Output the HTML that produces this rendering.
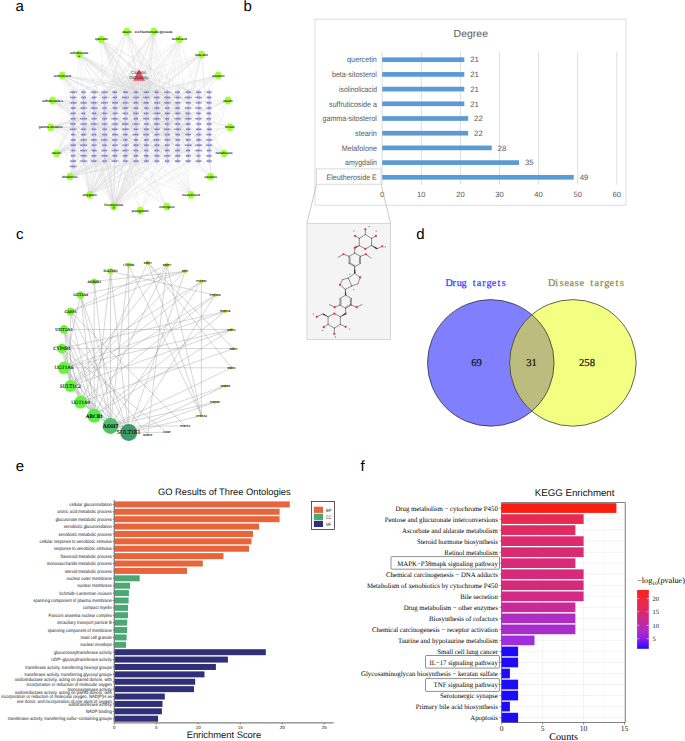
<!DOCTYPE html>
<html><head><meta charset="utf-8"><title>Figure</title>
<style>html,body{margin:0;padding:0;background:#fff;} svg{display:block;}</style></head>
<body><svg width="685" height="741" viewBox="0 0 685 741" text-rendering="geometricPrecision">
<rect width="685" height="741" fill="#fff"/>
<text x="15.60" y="10.80" font-size="15" fill="#000" text-anchor="start" font-family='"Liberation Sans", sans-serif' >a</text>
<text x="243.40" y="10.80" font-size="15" fill="#000" text-anchor="start" font-family='"Liberation Sans", sans-serif' >b</text>
<text x="16.00" y="238.70" font-size="15" fill="#000" text-anchor="start" font-family='"Liberation Sans", sans-serif' >c</text>
<text x="416.20" y="238.60" font-size="15" fill="#000" text-anchor="start" font-family='"Liberation Sans", sans-serif' >d</text>
<text x="15.80" y="470.80" font-size="15" fill="#000" text-anchor="start" font-family='"Liberation Sans", sans-serif' >e</text>
<text x="360.60" y="470.80" font-size="15" fill="#000" text-anchor="start" font-family='"Liberation Sans", sans-serif' >f</text>
<g stroke="#bdbdbd" stroke-width="0.3" opacity="0.6" fill="none">
<line x1="140.3" y1="210.5" x2="198.7" y2="118.7"/>
<line x1="140.3" y1="210.5" x2="177.8" y2="102.8"/>
<line x1="140.3" y1="210.5" x2="104.6" y2="129.3"/>
<line x1="140.3" y1="210.5" x2="198.7" y2="150.5"/>
<line x1="140.3" y1="210.5" x2="198.7" y2="92.2"/>
<line x1="140.3" y1="210.5" x2="115.0" y2="97.5"/>
<line x1="113.8" y1="206.5" x2="188.3" y2="139.9"/>
<line x1="113.8" y1="206.5" x2="177.8" y2="97.5"/>
<line x1="113.8" y1="206.5" x2="167.3" y2="124.0"/>
<line x1="113.8" y1="206.5" x2="167.3" y2="145.2"/>
<line x1="113.8" y1="206.5" x2="73.2" y2="97.5"/>
<line x1="113.8" y1="206.5" x2="104.6" y2="139.9"/>
<line x1="113.8" y1="206.5" x2="198.7" y2="108.1"/>
<line x1="113.8" y1="206.5" x2="167.3" y2="92.2"/>
<line x1="113.8" y1="206.5" x2="156.9" y2="97.5"/>
<line x1="113.8" y1="206.5" x2="209.2" y2="129.3"/>
<line x1="113.8" y1="206.5" x2="167.3" y2="129.3"/>
<line x1="113.8" y1="206.5" x2="104.6" y2="97.5"/>
<line x1="113.8" y1="206.5" x2="125.5" y2="113.4"/>
<line x1="113.8" y1="206.5" x2="167.3" y2="97.5"/>
<line x1="113.8" y1="206.5" x2="83.7" y2="145.2"/>
<line x1="113.8" y1="206.5" x2="177.8" y2="129.3"/>
<line x1="113.8" y1="206.5" x2="83.7" y2="97.5"/>
<line x1="113.8" y1="206.5" x2="115.0" y2="145.2"/>
<line x1="113.8" y1="206.5" x2="104.6" y2="102.8"/>
<line x1="113.8" y1="206.5" x2="83.7" y2="113.4"/>
<line x1="113.8" y1="206.5" x2="146.4" y2="150.5"/>
<line x1="113.8" y1="206.5" x2="136.0" y2="150.5"/>
<line x1="113.8" y1="206.5" x2="188.3" y2="161.1"/>
<line x1="113.8" y1="206.5" x2="198.7" y2="155.8"/>
<line x1="113.8" y1="206.5" x2="146.4" y2="145.2"/>
<line x1="113.8" y1="206.5" x2="136.0" y2="155.8"/>
<line x1="113.8" y1="206.5" x2="104.6" y2="129.3"/>
<line x1="113.8" y1="206.5" x2="198.7" y2="92.2"/>
<line x1="113.8" y1="206.5" x2="73.2" y2="113.4"/>
<line x1="113.8" y1="206.5" x2="188.3" y2="92.2"/>
<line x1="113.8" y1="206.5" x2="94.1" y2="145.2"/>
<line x1="113.8" y1="206.5" x2="136.0" y2="102.8"/>
<line x1="113.8" y1="206.5" x2="115.0" y2="118.7"/>
<line x1="113.8" y1="206.5" x2="115.0" y2="161.1"/>
<line x1="113.8" y1="206.5" x2="156.9" y2="102.8"/>
<line x1="113.8" y1="206.5" x2="198.7" y2="139.9"/>
<line x1="113.8" y1="206.5" x2="94.1" y2="102.8"/>
<line x1="113.8" y1="206.5" x2="136.0" y2="145.2"/>
<line x1="113.8" y1="206.5" x2="156.9" y2="118.7"/>
<line x1="113.8" y1="206.5" x2="104.6" y2="145.2"/>
<line x1="113.8" y1="206.5" x2="115.0" y2="108.1"/>
<line x1="113.8" y1="206.5" x2="198.7" y2="97.5"/>
<line x1="113.8" y1="206.5" x2="156.9" y2="145.2"/>
<line x1="113.8" y1="206.5" x2="125.5" y2="150.5"/>
<line x1="113.8" y1="206.5" x2="136.0" y2="108.1"/>
<line x1="113.8" y1="206.5" x2="188.3" y2="124.0"/>
<line x1="113.8" y1="206.5" x2="209.2" y2="161.1"/>
<line x1="113.8" y1="206.5" x2="73.2" y2="145.2"/>
<line x1="113.8" y1="206.5" x2="94.1" y2="97.5"/>
<line x1="89.6" y1="194.9" x2="115.0" y2="145.2"/>
<line x1="89.6" y1="194.9" x2="83.7" y2="97.5"/>
<line x1="89.6" y1="194.9" x2="115.0" y2="150.5"/>
<line x1="89.6" y1="194.9" x2="177.8" y2="108.1"/>
<line x1="89.6" y1="194.9" x2="83.7" y2="139.9"/>
<line x1="89.6" y1="194.9" x2="136.0" y2="155.8"/>
<line x1="89.6" y1="194.9" x2="177.8" y2="139.9"/>
<line x1="89.6" y1="194.9" x2="188.3" y2="129.3"/>
<line x1="89.6" y1="194.9" x2="177.8" y2="118.7"/>
<line x1="89.6" y1="194.9" x2="146.4" y2="134.6"/>
<line x1="89.6" y1="194.9" x2="167.3" y2="145.2"/>
<line x1="89.6" y1="194.9" x2="115.0" y2="134.6"/>
<line x1="89.6" y1="194.9" x2="156.9" y2="124.0"/>
<line x1="89.6" y1="194.9" x2="136.0" y2="118.7"/>
<line x1="89.6" y1="194.9" x2="146.4" y2="113.4"/>
<line x1="89.6" y1="194.9" x2="115.0" y2="108.1"/>
<line x1="89.6" y1="194.9" x2="177.8" y2="155.8"/>
<line x1="89.6" y1="194.9" x2="136.0" y2="113.4"/>
<line x1="89.6" y1="194.9" x2="136.0" y2="97.5"/>
<line x1="89.6" y1="194.9" x2="146.4" y2="145.2"/>
<line x1="89.6" y1="194.9" x2="83.7" y2="161.1"/>
<line x1="89.6" y1="194.9" x2="156.9" y2="139.9"/>
<line x1="89.6" y1="194.9" x2="73.2" y2="139.9"/>
<line x1="89.6" y1="194.9" x2="104.6" y2="124.0"/>
<line x1="89.6" y1="194.9" x2="94.1" y2="134.6"/>
<line x1="89.6" y1="194.9" x2="104.6" y2="118.7"/>
<line x1="89.6" y1="194.9" x2="83.7" y2="150.5"/>
<line x1="89.6" y1="194.9" x2="115.0" y2="97.5"/>
<line x1="89.6" y1="194.9" x2="94.1" y2="102.8"/>
<line x1="89.6" y1="194.9" x2="125.5" y2="139.9"/>
<line x1="89.6" y1="194.9" x2="167.3" y2="129.3"/>
<line x1="89.6" y1="194.9" x2="73.2" y2="108.1"/>
<line x1="89.6" y1="194.9" x2="125.5" y2="155.8"/>
<line x1="89.6" y1="194.9" x2="177.8" y2="102.8"/>
<line x1="89.6" y1="194.9" x2="209.2" y2="134.6"/>
<line x1="69.9" y1="176.6" x2="167.3" y2="129.3"/>
<line x1="69.9" y1="176.6" x2="177.8" y2="92.2"/>
<line x1="69.9" y1="176.6" x2="104.6" y2="155.8"/>
<line x1="69.9" y1="176.6" x2="125.5" y2="97.5"/>
<line x1="69.9" y1="176.6" x2="94.1" y2="145.2"/>
<line x1="69.9" y1="176.6" x2="136.0" y2="145.2"/>
<line x1="69.9" y1="176.6" x2="177.8" y2="118.7"/>
<line x1="69.9" y1="176.6" x2="104.6" y2="124.0"/>
<line x1="69.9" y1="176.6" x2="167.3" y2="155.8"/>
<line x1="69.9" y1="176.6" x2="125.5" y2="124.0"/>
<line x1="69.9" y1="176.6" x2="198.7" y2="145.2"/>
<line x1="69.9" y1="176.6" x2="83.7" y2="139.9"/>
<line x1="69.9" y1="176.6" x2="156.9" y2="145.2"/>
<line x1="69.9" y1="176.6" x2="115.0" y2="134.6"/>
<line x1="69.9" y1="176.6" x2="104.6" y2="97.5"/>
<line x1="69.9" y1="176.6" x2="167.3" y2="97.5"/>
<line x1="69.9" y1="176.6" x2="209.2" y2="113.4"/>
<line x1="69.9" y1="176.6" x2="167.3" y2="134.6"/>
<line x1="69.9" y1="176.6" x2="177.8" y2="155.8"/>
<line x1="69.9" y1="176.6" x2="94.1" y2="155.8"/>
<line x1="69.9" y1="176.6" x2="94.1" y2="97.5"/>
<line x1="69.9" y1="176.6" x2="83.7" y2="97.5"/>
<line x1="69.9" y1="176.6" x2="167.3" y2="118.7"/>
<line x1="69.9" y1="176.6" x2="188.3" y2="150.5"/>
<line x1="69.9" y1="176.6" x2="146.4" y2="145.2"/>
<line x1="69.9" y1="176.6" x2="94.1" y2="134.6"/>
<line x1="69.9" y1="176.6" x2="94.1" y2="118.7"/>
<line x1="69.9" y1="176.6" x2="73.2" y2="129.3"/>
<line x1="56.5" y1="153.4" x2="104.6" y2="155.8"/>
<line x1="56.5" y1="153.4" x2="115.0" y2="124.0"/>
<line x1="56.5" y1="153.4" x2="125.5" y2="92.2"/>
<line x1="56.5" y1="153.4" x2="136.0" y2="134.6"/>
<line x1="56.5" y1="153.4" x2="136.0" y2="124.0"/>
<line x1="56.5" y1="153.4" x2="83.7" y2="108.1"/>
<line x1="56.5" y1="153.4" x2="94.1" y2="150.5"/>
<line x1="56.5" y1="153.4" x2="83.7" y2="102.8"/>
<line x1="56.5" y1="153.4" x2="73.2" y2="139.9"/>
<line x1="56.5" y1="153.4" x2="83.7" y2="97.5"/>
<line x1="56.5" y1="153.4" x2="209.2" y2="108.1"/>
<line x1="56.5" y1="153.4" x2="104.6" y2="118.7"/>
<line x1="56.5" y1="153.4" x2="125.5" y2="102.8"/>
<line x1="56.5" y1="153.4" x2="146.4" y2="113.4"/>
<line x1="56.5" y1="153.4" x2="104.6" y2="129.3"/>
<line x1="56.5" y1="153.4" x2="94.1" y2="129.3"/>
<line x1="56.5" y1="153.4" x2="83.7" y2="139.9"/>
<line x1="56.5" y1="153.4" x2="136.0" y2="97.5"/>
<line x1="56.5" y1="153.4" x2="73.2" y2="108.1"/>
<line x1="56.5" y1="153.4" x2="94.1" y2="134.6"/>
<line x1="56.5" y1="153.4" x2="115.0" y2="129.3"/>
<line x1="56.5" y1="153.4" x2="73.2" y2="145.2"/>
<line x1="50.6" y1="127.2" x2="83.7" y2="118.7"/>
<line x1="50.6" y1="127.2" x2="146.4" y2="102.8"/>
<line x1="50.6" y1="127.2" x2="198.7" y2="129.3"/>
<line x1="50.6" y1="127.2" x2="73.2" y2="145.2"/>
<line x1="50.6" y1="127.2" x2="73.2" y2="166.4"/>
<line x1="50.6" y1="127.2" x2="198.7" y2="155.8"/>
<line x1="50.6" y1="127.2" x2="156.9" y2="129.3"/>
<line x1="50.6" y1="127.2" x2="146.4" y2="124.0"/>
<line x1="50.6" y1="127.2" x2="136.0" y2="155.8"/>
<line x1="50.6" y1="127.2" x2="209.2" y2="124.0"/>
<line x1="50.6" y1="127.2" x2="104.6" y2="113.4"/>
<line x1="50.6" y1="127.2" x2="177.8" y2="102.8"/>
<line x1="50.6" y1="127.2" x2="146.4" y2="97.5"/>
<line x1="50.6" y1="127.2" x2="104.6" y2="108.1"/>
<line x1="50.6" y1="127.2" x2="104.6" y2="161.1"/>
<line x1="50.6" y1="127.2" x2="115.0" y2="161.1"/>
<line x1="50.6" y1="127.2" x2="73.2" y2="155.8"/>
<line x1="50.6" y1="127.2" x2="209.2" y2="155.8"/>
<line x1="50.6" y1="127.2" x2="104.6" y2="92.2"/>
<line x1="50.6" y1="127.2" x2="198.7" y2="134.6"/>
<line x1="50.6" y1="127.2" x2="177.8" y2="145.2"/>
<line x1="50.6" y1="127.2" x2="115.0" y2="108.1"/>
<line x1="52.6" y1="100.5" x2="188.3" y2="113.4"/>
<line x1="52.6" y1="100.5" x2="94.1" y2="118.7"/>
<line x1="52.6" y1="100.5" x2="83.7" y2="92.2"/>
<line x1="52.6" y1="100.5" x2="167.3" y2="102.8"/>
<line x1="52.6" y1="100.5" x2="167.3" y2="129.3"/>
<line x1="52.6" y1="100.5" x2="177.8" y2="139.9"/>
<line x1="52.6" y1="100.5" x2="177.8" y2="124.0"/>
<line x1="52.6" y1="100.5" x2="94.1" y2="150.5"/>
<line x1="52.6" y1="100.5" x2="115.0" y2="145.2"/>
<line x1="52.6" y1="100.5" x2="188.3" y2="118.7"/>
<line x1="52.6" y1="100.5" x2="115.0" y2="102.8"/>
<line x1="52.6" y1="100.5" x2="156.9" y2="155.8"/>
<line x1="52.6" y1="100.5" x2="125.5" y2="139.9"/>
<line x1="52.6" y1="100.5" x2="115.0" y2="150.5"/>
<line x1="52.6" y1="100.5" x2="209.2" y2="150.5"/>
<line x1="52.6" y1="100.5" x2="125.5" y2="155.8"/>
<line x1="52.6" y1="100.5" x2="146.4" y2="161.1"/>
<line x1="52.6" y1="100.5" x2="209.2" y2="92.2"/>
<line x1="52.6" y1="100.5" x2="115.0" y2="134.6"/>
<line x1="52.6" y1="100.5" x2="136.0" y2="155.8"/>
<line x1="52.6" y1="100.5" x2="104.6" y2="145.2"/>
<line x1="62.4" y1="75.5" x2="94.1" y2="129.3"/>
<line x1="62.4" y1="75.5" x2="104.6" y2="129.3"/>
<line x1="62.4" y1="75.5" x2="115.0" y2="129.3"/>
<line x1="62.4" y1="75.5" x2="198.7" y2="97.5"/>
<line x1="62.4" y1="75.5" x2="188.3" y2="134.6"/>
<line x1="62.4" y1="75.5" x2="156.9" y2="150.5"/>
<line x1="62.4" y1="75.5" x2="83.7" y2="97.5"/>
<line x1="62.4" y1="75.5" x2="136.0" y2="108.1"/>
<line x1="62.4" y1="75.5" x2="104.6" y2="97.5"/>
<line x1="62.4" y1="75.5" x2="188.3" y2="108.1"/>
<line x1="62.4" y1="75.5" x2="73.2" y2="134.6"/>
<line x1="62.4" y1="75.5" x2="209.2" y2="102.8"/>
<line x1="62.4" y1="75.5" x2="73.2" y2="102.8"/>
<line x1="62.4" y1="75.5" x2="104.6" y2="124.0"/>
<line x1="62.4" y1="75.5" x2="209.2" y2="145.2"/>
<line x1="62.4" y1="75.5" x2="209.2" y2="92.2"/>
<line x1="62.4" y1="75.5" x2="73.2" y2="92.2"/>
<line x1="62.4" y1="75.5" x2="125.5" y2="145.2"/>
<line x1="62.4" y1="75.5" x2="177.8" y2="102.8"/>
<line x1="62.4" y1="75.5" x2="188.3" y2="139.9"/>
<line x1="62.4" y1="75.5" x2="188.3" y2="97.5"/>
<line x1="79.1" y1="54.5" x2="167.3" y2="124.0"/>
<line x1="79.1" y1="54.5" x2="104.6" y2="150.5"/>
<line x1="79.1" y1="54.5" x2="136.0" y2="92.2"/>
<line x1="79.1" y1="54.5" x2="115.0" y2="97.5"/>
<line x1="79.1" y1="54.5" x2="188.3" y2="108.1"/>
<line x1="79.1" y1="54.5" x2="198.7" y2="124.0"/>
<line x1="79.1" y1="54.5" x2="177.8" y2="102.8"/>
<line x1="79.1" y1="54.5" x2="156.9" y2="150.5"/>
<line x1="79.1" y1="54.5" x2="156.9" y2="113.4"/>
<line x1="79.1" y1="54.5" x2="115.0" y2="124.0"/>
<line x1="79.1" y1="54.5" x2="73.2" y2="150.5"/>
<line x1="79.1" y1="54.5" x2="167.3" y2="134.6"/>
<line x1="79.1" y1="54.5" x2="104.6" y2="102.8"/>
<line x1="79.1" y1="54.5" x2="83.7" y2="102.8"/>
<line x1="79.1" y1="54.5" x2="198.7" y2="134.6"/>
<line x1="79.1" y1="54.5" x2="146.4" y2="134.6"/>
<line x1="79.1" y1="54.5" x2="177.8" y2="134.6"/>
<line x1="79.1" y1="54.5" x2="188.3" y2="134.6"/>
<line x1="79.1" y1="54.5" x2="167.3" y2="118.7"/>
<line x1="79.1" y1="54.5" x2="146.4" y2="97.5"/>
<line x1="79.1" y1="54.5" x2="156.9" y2="102.8"/>
<line x1="101.3" y1="39.4" x2="198.7" y2="97.5"/>
<line x1="101.3" y1="39.4" x2="167.3" y2="161.1"/>
<line x1="101.3" y1="39.4" x2="104.6" y2="124.0"/>
<line x1="101.3" y1="39.4" x2="146.4" y2="161.1"/>
<line x1="101.3" y1="39.4" x2="188.3" y2="113.4"/>
<line x1="101.3" y1="39.4" x2="177.8" y2="134.6"/>
<line x1="101.3" y1="39.4" x2="167.3" y2="155.8"/>
<line x1="101.3" y1="39.4" x2="209.2" y2="102.8"/>
<line x1="101.3" y1="39.4" x2="136.0" y2="139.9"/>
<line x1="101.3" y1="39.4" x2="125.5" y2="92.2"/>
<line x1="101.3" y1="39.4" x2="177.8" y2="108.1"/>
<line x1="101.3" y1="39.4" x2="167.3" y2="139.9"/>
<line x1="101.3" y1="39.4" x2="156.9" y2="124.0"/>
<line x1="101.3" y1="39.4" x2="167.3" y2="102.8"/>
<line x1="101.3" y1="39.4" x2="156.9" y2="155.8"/>
<line x1="101.3" y1="39.4" x2="209.2" y2="139.9"/>
<line x1="101.3" y1="39.4" x2="136.0" y2="92.2"/>
<line x1="101.3" y1="39.4" x2="198.7" y2="161.1"/>
<line x1="101.3" y1="39.4" x2="136.0" y2="118.7"/>
<line x1="101.3" y1="39.4" x2="177.8" y2="150.5"/>
<line x1="101.3" y1="39.4" x2="167.3" y2="97.5"/>
<line x1="126.9" y1="31.5" x2="177.8" y2="155.8"/>
<line x1="126.9" y1="31.5" x2="177.8" y2="113.4"/>
<line x1="126.9" y1="31.5" x2="136.0" y2="139.9"/>
<line x1="126.9" y1="31.5" x2="167.3" y2="124.0"/>
<line x1="126.9" y1="31.5" x2="73.2" y2="108.1"/>
<line x1="126.9" y1="31.5" x2="146.4" y2="124.0"/>
<line x1="126.9" y1="31.5" x2="83.7" y2="113.4"/>
<line x1="126.9" y1="31.5" x2="177.8" y2="139.9"/>
<line x1="126.9" y1="31.5" x2="198.7" y2="139.9"/>
<line x1="126.9" y1="31.5" x2="94.1" y2="139.9"/>
<line x1="126.9" y1="31.5" x2="73.2" y2="124.0"/>
<line x1="126.9" y1="31.5" x2="156.9" y2="150.5"/>
<line x1="126.9" y1="31.5" x2="94.1" y2="150.5"/>
<line x1="126.9" y1="31.5" x2="198.7" y2="161.1"/>
<line x1="126.9" y1="31.5" x2="146.4" y2="108.1"/>
<line x1="153.7" y1="31.5" x2="125.5" y2="113.4"/>
<line x1="153.7" y1="31.5" x2="115.0" y2="129.3"/>
<line x1="153.7" y1="31.5" x2="146.4" y2="161.1"/>
<line x1="153.7" y1="31.5" x2="94.1" y2="113.4"/>
<line x1="153.7" y1="31.5" x2="167.3" y2="108.1"/>
<line x1="153.7" y1="31.5" x2="136.0" y2="139.9"/>
<line x1="153.7" y1="31.5" x2="73.2" y2="139.9"/>
<line x1="153.7" y1="31.5" x2="146.4" y2="124.0"/>
<line x1="153.7" y1="31.5" x2="125.5" y2="161.1"/>
<line x1="153.7" y1="31.5" x2="146.4" y2="92.2"/>
<line x1="153.7" y1="31.5" x2="83.7" y2="118.7"/>
<line x1="153.7" y1="31.5" x2="156.9" y2="134.6"/>
<line x1="153.7" y1="31.5" x2="177.8" y2="113.4"/>
<line x1="153.7" y1="31.5" x2="146.4" y2="108.1"/>
<line x1="153.7" y1="31.5" x2="167.3" y2="155.8"/>
<line x1="153.7" y1="31.5" x2="73.2" y2="150.5"/>
<line x1="153.7" y1="31.5" x2="115.0" y2="124.0"/>
<line x1="153.7" y1="31.5" x2="94.1" y2="134.6"/>
<line x1="179.3" y1="39.4" x2="104.6" y2="161.1"/>
<line x1="179.3" y1="39.4" x2="125.5" y2="124.0"/>
<line x1="179.3" y1="39.4" x2="167.3" y2="124.0"/>
<line x1="179.3" y1="39.4" x2="136.0" y2="97.5"/>
<line x1="179.3" y1="39.4" x2="73.2" y2="113.4"/>
<line x1="179.3" y1="39.4" x2="198.7" y2="97.5"/>
<line x1="179.3" y1="39.4" x2="94.1" y2="113.4"/>
<line x1="179.3" y1="39.4" x2="156.9" y2="134.6"/>
<line x1="179.3" y1="39.4" x2="156.9" y2="108.1"/>
<line x1="179.3" y1="39.4" x2="94.1" y2="124.0"/>
<line x1="179.3" y1="39.4" x2="177.8" y2="108.1"/>
<line x1="179.3" y1="39.4" x2="188.3" y2="134.6"/>
<line x1="179.3" y1="39.4" x2="125.5" y2="150.5"/>
<line x1="179.3" y1="39.4" x2="94.1" y2="150.5"/>
<line x1="201.5" y1="54.5" x2="73.2" y2="92.2"/>
<line x1="201.5" y1="54.5" x2="177.8" y2="134.6"/>
<line x1="201.5" y1="54.5" x2="209.2" y2="150.5"/>
<line x1="201.5" y1="54.5" x2="115.0" y2="124.0"/>
<line x1="201.5" y1="54.5" x2="177.8" y2="150.5"/>
<line x1="201.5" y1="54.5" x2="146.4" y2="97.5"/>
<line x1="201.5" y1="54.5" x2="83.7" y2="155.8"/>
<line x1="201.5" y1="54.5" x2="94.1" y2="102.8"/>
<line x1="201.5" y1="54.5" x2="83.7" y2="129.3"/>
<line x1="201.5" y1="54.5" x2="73.2" y2="161.1"/>
<line x1="201.5" y1="54.5" x2="177.8" y2="161.1"/>
<line x1="201.5" y1="54.5" x2="167.3" y2="108.1"/>
<line x1="201.5" y1="54.5" x2="104.6" y2="108.1"/>
<line x1="201.5" y1="54.5" x2="209.2" y2="129.3"/>
<line x1="201.5" y1="54.5" x2="156.9" y2="150.5"/>
<line x1="201.5" y1="54.5" x2="83.7" y2="124.0"/>
<line x1="218.2" y1="75.5" x2="156.9" y2="97.5"/>
<line x1="218.2" y1="75.5" x2="94.1" y2="161.1"/>
<line x1="218.2" y1="75.5" x2="104.6" y2="129.3"/>
<line x1="218.2" y1="75.5" x2="136.0" y2="134.6"/>
<line x1="218.2" y1="75.5" x2="115.0" y2="129.3"/>
<line x1="218.2" y1="75.5" x2="156.9" y2="161.1"/>
<line x1="218.2" y1="75.5" x2="146.4" y2="97.5"/>
<line x1="218.2" y1="75.5" x2="104.6" y2="161.1"/>
<line x1="218.2" y1="75.5" x2="198.7" y2="102.8"/>
<line x1="218.2" y1="75.5" x2="83.7" y2="108.1"/>
<line x1="218.2" y1="75.5" x2="115.0" y2="102.8"/>
<line x1="218.2" y1="75.5" x2="146.4" y2="92.2"/>
<line x1="228.0" y1="100.5" x2="177.8" y2="102.8"/>
<line x1="228.0" y1="100.5" x2="188.3" y2="145.2"/>
<line x1="228.0" y1="100.5" x2="146.4" y2="134.6"/>
<line x1="228.0" y1="100.5" x2="209.2" y2="150.5"/>
<line x1="228.0" y1="100.5" x2="167.3" y2="102.8"/>
<line x1="228.0" y1="100.5" x2="94.1" y2="150.5"/>
<line x1="228.0" y1="100.5" x2="198.7" y2="145.2"/>
<line x1="228.0" y1="100.5" x2="167.3" y2="134.6"/>
<line x1="228.0" y1="100.5" x2="73.2" y2="155.8"/>
<line x1="228.0" y1="100.5" x2="125.5" y2="124.0"/>
<line x1="230.0" y1="127.2" x2="188.3" y2="102.8"/>
<line x1="230.0" y1="127.2" x2="73.2" y2="145.2"/>
<line x1="230.0" y1="127.2" x2="125.5" y2="102.8"/>
<line x1="230.0" y1="127.2" x2="125.5" y2="92.2"/>
<line x1="230.0" y1="127.2" x2="104.6" y2="92.2"/>
<line x1="230.0" y1="127.2" x2="104.6" y2="161.1"/>
<line x1="230.0" y1="127.2" x2="198.7" y2="150.5"/>
<line x1="230.0" y1="127.2" x2="198.7" y2="97.5"/>
<line x1="230.0" y1="127.2" x2="156.9" y2="139.9"/>
<line x1="230.0" y1="127.2" x2="167.3" y2="161.1"/>
<line x1="224.1" y1="153.4" x2="146.4" y2="102.8"/>
<line x1="224.1" y1="153.4" x2="209.2" y2="129.3"/>
<line x1="224.1" y1="153.4" x2="146.4" y2="108.1"/>
<line x1="224.1" y1="153.4" x2="198.7" y2="108.1"/>
<line x1="224.1" y1="153.4" x2="146.4" y2="92.2"/>
<line x1="224.1" y1="153.4" x2="156.9" y2="113.4"/>
<line x1="224.1" y1="153.4" x2="115.0" y2="118.7"/>
<line x1="224.1" y1="153.4" x2="94.1" y2="139.9"/>
<line x1="224.1" y1="153.4" x2="125.5" y2="113.4"/>
<line x1="210.7" y1="176.6" x2="209.2" y2="161.1"/>
<line x1="210.7" y1="176.6" x2="177.8" y2="145.2"/>
<line x1="210.7" y1="176.6" x2="209.2" y2="118.7"/>
<line x1="210.7" y1="176.6" x2="177.8" y2="113.4"/>
<line x1="210.7" y1="176.6" x2="209.2" y2="139.9"/>
<line x1="210.7" y1="176.6" x2="167.3" y2="129.3"/>
<line x1="210.7" y1="176.6" x2="125.5" y2="102.8"/>
<line x1="210.7" y1="176.6" x2="83.7" y2="97.5"/>
<line x1="191.0" y1="194.9" x2="146.4" y2="161.1"/>
<line x1="191.0" y1="194.9" x2="136.0" y2="124.0"/>
<line x1="191.0" y1="194.9" x2="125.5" y2="134.6"/>
<line x1="191.0" y1="194.9" x2="83.7" y2="155.8"/>
<line x1="191.0" y1="194.9" x2="167.3" y2="145.2"/>
<line x1="191.0" y1="194.9" x2="136.0" y2="139.9"/>
<line x1="191.0" y1="194.9" x2="167.3" y2="129.3"/>
<line x1="191.0" y1="194.9" x2="94.1" y2="139.9"/>
<line x1="191.0" y1="194.9" x2="125.5" y2="102.8"/>
<line x1="191.0" y1="194.9" x2="177.8" y2="139.9"/>
<line x1="191.0" y1="194.9" x2="177.8" y2="102.8"/>
<line x1="191.0" y1="194.9" x2="156.9" y2="139.9"/>
<line x1="166.8" y1="206.5" x2="115.0" y2="139.9"/>
<line x1="166.8" y1="206.5" x2="115.0" y2="92.2"/>
<line x1="166.8" y1="206.5" x2="73.2" y2="134.6"/>
<line x1="166.8" y1="206.5" x2="115.0" y2="108.1"/>
<line x1="166.8" y1="206.5" x2="83.7" y2="150.5"/>
<line x1="166.8" y1="206.5" x2="83.7" y2="92.2"/>
<line x1="139.1" y1="75.0" x2="73.2" y2="92.2"/>
<line x1="139.1" y1="75.0" x2="104.6" y2="92.2"/>
<line x1="139.1" y1="75.0" x2="136.0" y2="92.2"/>
<line x1="139.1" y1="75.0" x2="167.3" y2="92.2"/>
<line x1="139.1" y1="75.0" x2="198.7" y2="92.2"/>
<line x1="139.1" y1="75.0" x2="83.7" y2="97.5"/>
<line x1="139.1" y1="75.0" x2="115.0" y2="97.5"/>
<line x1="139.1" y1="75.0" x2="146.4" y2="97.5"/>
<line x1="139.1" y1="75.0" x2="177.8" y2="97.5"/>
<line x1="139.1" y1="75.0" x2="209.2" y2="97.5"/>
<line x1="139.1" y1="75.0" x2="94.1" y2="102.8"/>
<line x1="139.1" y1="75.0" x2="125.5" y2="102.8"/>
<line x1="139.1" y1="75.0" x2="156.9" y2="102.8"/>
<line x1="139.1" y1="75.0" x2="188.3" y2="102.8"/>
<line x1="139.1" y1="75.0" x2="73.2" y2="108.1"/>
<line x1="139.1" y1="75.0" x2="104.6" y2="108.1"/>
<line x1="139.1" y1="75.0" x2="136.0" y2="108.1"/>
<line x1="139.1" y1="75.0" x2="167.3" y2="108.1"/>
<line x1="139.1" y1="75.0" x2="198.7" y2="108.1"/>
<line x1="139.1" y1="75.0" x2="83.7" y2="113.4"/>
<line x1="139.1" y1="75.0" x2="115.0" y2="113.4"/>
<line x1="139.1" y1="75.0" x2="146.4" y2="113.4"/>
<line x1="139.1" y1="75.0" x2="177.8" y2="113.4"/>
<line x1="139.1" y1="75.0" x2="209.2" y2="113.4"/>
<line x1="139.1" y1="75.0" x2="94.1" y2="118.7"/>
<line x1="139.1" y1="75.0" x2="125.5" y2="118.7"/>
<line x1="139.1" y1="75.0" x2="156.9" y2="118.7"/>
<line x1="139.1" y1="75.0" x2="188.3" y2="118.7"/>
<line x1="139.1" y1="75.0" x2="73.2" y2="124.0"/>
<line x1="139.1" y1="75.0" x2="104.6" y2="124.0"/>
<line x1="139.1" y1="75.0" x2="136.0" y2="124.0"/>
<line x1="139.1" y1="75.0" x2="167.3" y2="124.0"/>
<line x1="139.1" y1="75.0" x2="198.7" y2="124.0"/>
<line x1="139.1" y1="75.0" x2="83.7" y2="129.3"/>
<line x1="139.1" y1="75.0" x2="115.0" y2="129.3"/>
<line x1="139.1" y1="75.0" x2="146.4" y2="129.3"/>
<line x1="139.1" y1="75.0" x2="177.8" y2="129.3"/>
<line x1="139.1" y1="75.0" x2="209.2" y2="129.3"/>
<line x1="139.1" y1="75.0" x2="94.1" y2="134.6"/>
<line x1="139.1" y1="75.0" x2="125.5" y2="134.6"/>
<line x1="139.1" y1="75.0" x2="156.9" y2="134.6"/>
<line x1="139.1" y1="75.0" x2="188.3" y2="134.6"/>
<line x1="139.1" y1="75.0" x2="73.2" y2="139.9"/>
<line x1="139.1" y1="75.0" x2="104.6" y2="139.9"/>
<line x1="139.1" y1="75.0" x2="136.0" y2="139.9"/>
<line x1="139.1" y1="75.0" x2="167.3" y2="139.9"/>
<line x1="139.1" y1="75.0" x2="198.7" y2="139.9"/>
<line x1="139.1" y1="75.0" x2="83.7" y2="145.2"/>
<line x1="139.1" y1="75.0" x2="115.0" y2="145.2"/>
<line x1="139.1" y1="75.0" x2="146.4" y2="145.2"/>
<line x1="139.1" y1="75.0" x2="177.8" y2="145.2"/>
<line x1="139.1" y1="75.0" x2="209.2" y2="145.2"/>
<line x1="139.1" y1="75.0" x2="94.1" y2="150.5"/>
<line x1="139.1" y1="75.0" x2="125.5" y2="150.5"/>
<line x1="139.1" y1="75.0" x2="156.9" y2="150.5"/>
<line x1="139.1" y1="75.0" x2="188.3" y2="150.5"/>
<line x1="139.1" y1="75.0" x2="73.2" y2="155.8"/>
<line x1="139.1" y1="75.0" x2="104.6" y2="155.8"/>
<line x1="139.1" y1="75.0" x2="136.0" y2="155.8"/>
<line x1="139.1" y1="75.0" x2="167.3" y2="155.8"/>
<line x1="139.1" y1="75.0" x2="198.7" y2="155.8"/>
<line x1="139.1" y1="75.0" x2="83.7" y2="161.1"/>
<line x1="139.1" y1="75.0" x2="115.0" y2="161.1"/>
<line x1="139.1" y1="75.0" x2="146.4" y2="161.1"/>
<line x1="139.1" y1="75.0" x2="177.8" y2="161.1"/>
<line x1="139.1" y1="75.0" x2="209.2" y2="161.1"/>
</g>
<g fill="#c4c4fa">
<path d="M70.7 92.2L73.2 89.5L75.7 92.2L73.2 95.0Z"/>
<path d="M81.2 92.2L83.7 89.5L86.2 92.2L83.7 95.0Z"/>
<path d="M91.6 92.2L94.1 89.5L96.6 92.2L94.1 95.0Z"/>
<path d="M102.1 92.2L104.6 89.5L107.1 92.2L104.6 95.0Z"/>
<path d="M112.5 92.2L115.0 89.5L117.5 92.2L115.0 95.0Z"/>
<path d="M123.0 92.2L125.5 89.5L128.0 92.2L125.5 95.0Z"/>
<path d="M133.5 92.2L136.0 89.5L138.5 92.2L136.0 95.0Z"/>
<path d="M143.9 92.2L146.4 89.5L148.9 92.2L146.4 95.0Z"/>
<path d="M154.4 92.2L156.9 89.5L159.4 92.2L156.9 95.0Z"/>
<path d="M164.8 92.2L167.3 89.5L169.8 92.2L167.3 95.0Z"/>
<path d="M175.3 92.2L177.8 89.5L180.3 92.2L177.8 95.0Z"/>
<path d="M185.8 92.2L188.3 89.5L190.8 92.2L188.3 95.0Z"/>
<path d="M196.2 92.2L198.7 89.5L201.2 92.2L198.7 95.0Z"/>
<path d="M206.7 92.2L209.2 89.5L211.7 92.2L209.2 95.0Z"/>
<path d="M70.7 97.5L73.2 94.8L75.7 97.5L73.2 100.2Z"/>
<path d="M81.2 97.5L83.7 94.8L86.2 97.5L83.7 100.2Z"/>
<path d="M91.6 97.5L94.1 94.8L96.6 97.5L94.1 100.2Z"/>
<path d="M102.1 97.5L104.6 94.8L107.1 97.5L104.6 100.2Z"/>
<path d="M112.5 97.5L115.0 94.8L117.5 97.5L115.0 100.2Z"/>
<path d="M123.0 97.5L125.5 94.8L128.0 97.5L125.5 100.2Z"/>
<path d="M133.5 97.5L136.0 94.8L138.5 97.5L136.0 100.2Z"/>
<path d="M143.9 97.5L146.4 94.8L148.9 97.5L146.4 100.2Z"/>
<path d="M154.4 97.5L156.9 94.8L159.4 97.5L156.9 100.2Z"/>
<path d="M164.8 97.5L167.3 94.8L169.8 97.5L167.3 100.2Z"/>
<path d="M175.3 97.5L177.8 94.8L180.3 97.5L177.8 100.2Z"/>
<path d="M185.8 97.5L188.3 94.8L190.8 97.5L188.3 100.2Z"/>
<path d="M196.2 97.5L198.7 94.8L201.2 97.5L198.7 100.2Z"/>
<path d="M206.7 97.5L209.2 94.8L211.7 97.5L209.2 100.2Z"/>
<path d="M70.7 102.8L73.2 100.0L75.7 102.8L73.2 105.5Z"/>
<path d="M81.2 102.8L83.7 100.0L86.2 102.8L83.7 105.5Z"/>
<path d="M91.6 102.8L94.1 100.0L96.6 102.8L94.1 105.5Z"/>
<path d="M102.1 102.8L104.6 100.0L107.1 102.8L104.6 105.5Z"/>
<path d="M112.5 102.8L115.0 100.0L117.5 102.8L115.0 105.5Z"/>
<path d="M123.0 102.8L125.5 100.0L128.0 102.8L125.5 105.5Z"/>
<path d="M133.5 102.8L136.0 100.0L138.5 102.8L136.0 105.5Z"/>
<path d="M143.9 102.8L146.4 100.0L148.9 102.8L146.4 105.5Z"/>
<path d="M154.4 102.8L156.9 100.0L159.4 102.8L156.9 105.5Z"/>
<path d="M164.8 102.8L167.3 100.0L169.8 102.8L167.3 105.5Z"/>
<path d="M175.3 102.8L177.8 100.0L180.3 102.8L177.8 105.5Z"/>
<path d="M185.8 102.8L188.3 100.0L190.8 102.8L188.3 105.5Z"/>
<path d="M196.2 102.8L198.7 100.0L201.2 102.8L198.7 105.5Z"/>
<path d="M206.7 102.8L209.2 100.0L211.7 102.8L209.2 105.5Z"/>
<path d="M70.7 108.1L73.2 105.3L75.7 108.1L73.2 110.8Z"/>
<path d="M81.2 108.1L83.7 105.3L86.2 108.1L83.7 110.8Z"/>
<path d="M91.6 108.1L94.1 105.3L96.6 108.1L94.1 110.8Z"/>
<path d="M102.1 108.1L104.6 105.3L107.1 108.1L104.6 110.8Z"/>
<path d="M112.5 108.1L115.0 105.3L117.5 108.1L115.0 110.8Z"/>
<path d="M123.0 108.1L125.5 105.3L128.0 108.1L125.5 110.8Z"/>
<path d="M133.5 108.1L136.0 105.3L138.5 108.1L136.0 110.8Z"/>
<path d="M143.9 108.1L146.4 105.3L148.9 108.1L146.4 110.8Z"/>
<path d="M154.4 108.1L156.9 105.3L159.4 108.1L156.9 110.8Z"/>
<path d="M164.8 108.1L167.3 105.3L169.8 108.1L167.3 110.8Z"/>
<path d="M175.3 108.1L177.8 105.3L180.3 108.1L177.8 110.8Z"/>
<path d="M185.8 108.1L188.3 105.3L190.8 108.1L188.3 110.8Z"/>
<path d="M196.2 108.1L198.7 105.3L201.2 108.1L198.7 110.8Z"/>
<path d="M206.7 108.1L209.2 105.3L211.7 108.1L209.2 110.8Z"/>
<path d="M70.7 113.4L73.2 110.7L75.7 113.4L73.2 116.2Z"/>
<path d="M81.2 113.4L83.7 110.7L86.2 113.4L83.7 116.2Z"/>
<path d="M91.6 113.4L94.1 110.7L96.6 113.4L94.1 116.2Z"/>
<path d="M102.1 113.4L104.6 110.7L107.1 113.4L104.6 116.2Z"/>
<path d="M112.5 113.4L115.0 110.7L117.5 113.4L115.0 116.2Z"/>
<path d="M123.0 113.4L125.5 110.7L128.0 113.4L125.5 116.2Z"/>
<path d="M133.5 113.4L136.0 110.7L138.5 113.4L136.0 116.2Z"/>
<path d="M143.9 113.4L146.4 110.7L148.9 113.4L146.4 116.2Z"/>
<path d="M154.4 113.4L156.9 110.7L159.4 113.4L156.9 116.2Z"/>
<path d="M164.8 113.4L167.3 110.7L169.8 113.4L167.3 116.2Z"/>
<path d="M175.3 113.4L177.8 110.7L180.3 113.4L177.8 116.2Z"/>
<path d="M185.8 113.4L188.3 110.7L190.8 113.4L188.3 116.2Z"/>
<path d="M196.2 113.4L198.7 110.7L201.2 113.4L198.7 116.2Z"/>
<path d="M206.7 113.4L209.2 110.7L211.7 113.4L209.2 116.2Z"/>
<path d="M70.7 118.7L73.2 116.0L75.7 118.7L73.2 121.5Z"/>
<path d="M81.2 118.7L83.7 116.0L86.2 118.7L83.7 121.5Z"/>
<path d="M91.6 118.7L94.1 116.0L96.6 118.7L94.1 121.5Z"/>
<path d="M102.1 118.7L104.6 116.0L107.1 118.7L104.6 121.5Z"/>
<path d="M112.5 118.7L115.0 116.0L117.5 118.7L115.0 121.5Z"/>
<path d="M123.0 118.7L125.5 116.0L128.0 118.7L125.5 121.5Z"/>
<path d="M133.5 118.7L136.0 116.0L138.5 118.7L136.0 121.5Z"/>
<path d="M143.9 118.7L146.4 116.0L148.9 118.7L146.4 121.5Z"/>
<path d="M154.4 118.7L156.9 116.0L159.4 118.7L156.9 121.5Z"/>
<path d="M164.8 118.7L167.3 116.0L169.8 118.7L167.3 121.5Z"/>
<path d="M175.3 118.7L177.8 116.0L180.3 118.7L177.8 121.5Z"/>
<path d="M185.8 118.7L188.3 116.0L190.8 118.7L188.3 121.5Z"/>
<path d="M196.2 118.7L198.7 116.0L201.2 118.7L198.7 121.5Z"/>
<path d="M206.7 118.7L209.2 116.0L211.7 118.7L209.2 121.5Z"/>
<path d="M70.7 124.0L73.2 121.2L75.7 124.0L73.2 126.8Z"/>
<path d="M81.2 124.0L83.7 121.2L86.2 124.0L83.7 126.8Z"/>
<path d="M91.6 124.0L94.1 121.2L96.6 124.0L94.1 126.8Z"/>
<path d="M102.1 124.0L104.6 121.2L107.1 124.0L104.6 126.8Z"/>
<path d="M112.5 124.0L115.0 121.2L117.5 124.0L115.0 126.8Z"/>
<path d="M123.0 124.0L125.5 121.2L128.0 124.0L125.5 126.8Z"/>
<path d="M133.5 124.0L136.0 121.2L138.5 124.0L136.0 126.8Z"/>
<path d="M143.9 124.0L146.4 121.2L148.9 124.0L146.4 126.8Z"/>
<path d="M154.4 124.0L156.9 121.2L159.4 124.0L156.9 126.8Z"/>
<path d="M164.8 124.0L167.3 121.2L169.8 124.0L167.3 126.8Z"/>
<path d="M175.3 124.0L177.8 121.2L180.3 124.0L177.8 126.8Z"/>
<path d="M185.8 124.0L188.3 121.2L190.8 124.0L188.3 126.8Z"/>
<path d="M196.2 124.0L198.7 121.2L201.2 124.0L198.7 126.8Z"/>
<path d="M206.7 124.0L209.2 121.2L211.7 124.0L209.2 126.8Z"/>
<path d="M70.7 129.3L73.2 126.6L75.7 129.3L73.2 132.1Z"/>
<path d="M81.2 129.3L83.7 126.6L86.2 129.3L83.7 132.1Z"/>
<path d="M91.6 129.3L94.1 126.6L96.6 129.3L94.1 132.1Z"/>
<path d="M102.1 129.3L104.6 126.6L107.1 129.3L104.6 132.1Z"/>
<path d="M112.5 129.3L115.0 126.6L117.5 129.3L115.0 132.1Z"/>
<path d="M123.0 129.3L125.5 126.6L128.0 129.3L125.5 132.1Z"/>
<path d="M133.5 129.3L136.0 126.6L138.5 129.3L136.0 132.1Z"/>
<path d="M143.9 129.3L146.4 126.6L148.9 129.3L146.4 132.1Z"/>
<path d="M154.4 129.3L156.9 126.6L159.4 129.3L156.9 132.1Z"/>
<path d="M164.8 129.3L167.3 126.6L169.8 129.3L167.3 132.1Z"/>
<path d="M175.3 129.3L177.8 126.6L180.3 129.3L177.8 132.1Z"/>
<path d="M185.8 129.3L188.3 126.6L190.8 129.3L188.3 132.1Z"/>
<path d="M196.2 129.3L198.7 126.6L201.2 129.3L198.7 132.1Z"/>
<path d="M206.7 129.3L209.2 126.6L211.7 129.3L209.2 132.1Z"/>
<path d="M70.7 134.6L73.2 131.8L75.7 134.6L73.2 137.3Z"/>
<path d="M81.2 134.6L83.7 131.8L86.2 134.6L83.7 137.3Z"/>
<path d="M91.6 134.6L94.1 131.8L96.6 134.6L94.1 137.3Z"/>
<path d="M102.1 134.6L104.6 131.8L107.1 134.6L104.6 137.3Z"/>
<path d="M112.5 134.6L115.0 131.8L117.5 134.6L115.0 137.3Z"/>
<path d="M123.0 134.6L125.5 131.8L128.0 134.6L125.5 137.3Z"/>
<path d="M133.5 134.6L136.0 131.8L138.5 134.6L136.0 137.3Z"/>
<path d="M143.9 134.6L146.4 131.8L148.9 134.6L146.4 137.3Z"/>
<path d="M154.4 134.6L156.9 131.8L159.4 134.6L156.9 137.3Z"/>
<path d="M164.8 134.6L167.3 131.8L169.8 134.6L167.3 137.3Z"/>
<path d="M175.3 134.6L177.8 131.8L180.3 134.6L177.8 137.3Z"/>
<path d="M185.8 134.6L188.3 131.8L190.8 134.6L188.3 137.3Z"/>
<path d="M196.2 134.6L198.7 131.8L201.2 134.6L198.7 137.3Z"/>
<path d="M206.7 134.6L209.2 131.8L211.7 134.6L209.2 137.3Z"/>
<path d="M70.7 139.9L73.2 137.2L75.7 139.9L73.2 142.7Z"/>
<path d="M81.2 139.9L83.7 137.2L86.2 139.9L83.7 142.7Z"/>
<path d="M91.6 139.9L94.1 137.2L96.6 139.9L94.1 142.7Z"/>
<path d="M102.1 139.9L104.6 137.2L107.1 139.9L104.6 142.7Z"/>
<path d="M112.5 139.9L115.0 137.2L117.5 139.9L115.0 142.7Z"/>
<path d="M123.0 139.9L125.5 137.2L128.0 139.9L125.5 142.7Z"/>
<path d="M133.5 139.9L136.0 137.2L138.5 139.9L136.0 142.7Z"/>
<path d="M143.9 139.9L146.4 137.2L148.9 139.9L146.4 142.7Z"/>
<path d="M154.4 139.9L156.9 137.2L159.4 139.9L156.9 142.7Z"/>
<path d="M164.8 139.9L167.3 137.2L169.8 139.9L167.3 142.7Z"/>
<path d="M175.3 139.9L177.8 137.2L180.3 139.9L177.8 142.7Z"/>
<path d="M185.8 139.9L188.3 137.2L190.8 139.9L188.3 142.7Z"/>
<path d="M196.2 139.9L198.7 137.2L201.2 139.9L198.7 142.7Z"/>
<path d="M206.7 139.9L209.2 137.2L211.7 139.9L209.2 142.7Z"/>
<path d="M70.7 145.2L73.2 142.4L75.7 145.2L73.2 147.9Z"/>
<path d="M81.2 145.2L83.7 142.4L86.2 145.2L83.7 147.9Z"/>
<path d="M91.6 145.2L94.1 142.4L96.6 145.2L94.1 147.9Z"/>
<path d="M102.1 145.2L104.6 142.4L107.1 145.2L104.6 147.9Z"/>
<path d="M112.5 145.2L115.0 142.4L117.5 145.2L115.0 147.9Z"/>
<path d="M123.0 145.2L125.5 142.4L128.0 145.2L125.5 147.9Z"/>
<path d="M133.5 145.2L136.0 142.4L138.5 145.2L136.0 147.9Z"/>
<path d="M143.9 145.2L146.4 142.4L148.9 145.2L146.4 147.9Z"/>
<path d="M154.4 145.2L156.9 142.4L159.4 145.2L156.9 147.9Z"/>
<path d="M164.8 145.2L167.3 142.4L169.8 145.2L167.3 147.9Z"/>
<path d="M175.3 145.2L177.8 142.4L180.3 145.2L177.8 147.9Z"/>
<path d="M185.8 145.2L188.3 142.4L190.8 145.2L188.3 147.9Z"/>
<path d="M196.2 145.2L198.7 142.4L201.2 145.2L198.7 147.9Z"/>
<path d="M206.7 145.2L209.2 142.4L211.7 145.2L209.2 147.9Z"/>
<path d="M70.7 150.5L73.2 147.8L75.7 150.5L73.2 153.2Z"/>
<path d="M81.2 150.5L83.7 147.8L86.2 150.5L83.7 153.2Z"/>
<path d="M91.6 150.5L94.1 147.8L96.6 150.5L94.1 153.2Z"/>
<path d="M102.1 150.5L104.6 147.8L107.1 150.5L104.6 153.2Z"/>
<path d="M112.5 150.5L115.0 147.8L117.5 150.5L115.0 153.2Z"/>
<path d="M123.0 150.5L125.5 147.8L128.0 150.5L125.5 153.2Z"/>
<path d="M133.5 150.5L136.0 147.8L138.5 150.5L136.0 153.2Z"/>
<path d="M143.9 150.5L146.4 147.8L148.9 150.5L146.4 153.2Z"/>
<path d="M154.4 150.5L156.9 147.8L159.4 150.5L156.9 153.2Z"/>
<path d="M164.8 150.5L167.3 147.8L169.8 150.5L167.3 153.2Z"/>
<path d="M175.3 150.5L177.8 147.8L180.3 150.5L177.8 153.2Z"/>
<path d="M185.8 150.5L188.3 147.8L190.8 150.5L188.3 153.2Z"/>
<path d="M196.2 150.5L198.7 147.8L201.2 150.5L198.7 153.2Z"/>
<path d="M206.7 150.5L209.2 147.8L211.7 150.5L209.2 153.2Z"/>
<path d="M70.7 155.8L73.2 153.1L75.7 155.8L73.2 158.6Z"/>
<path d="M81.2 155.8L83.7 153.1L86.2 155.8L83.7 158.6Z"/>
<path d="M91.6 155.8L94.1 153.1L96.6 155.8L94.1 158.6Z"/>
<path d="M102.1 155.8L104.6 153.1L107.1 155.8L104.6 158.6Z"/>
<path d="M112.5 155.8L115.0 153.1L117.5 155.8L115.0 158.6Z"/>
<path d="M123.0 155.8L125.5 153.1L128.0 155.8L125.5 158.6Z"/>
<path d="M133.5 155.8L136.0 153.1L138.5 155.8L136.0 158.6Z"/>
<path d="M143.9 155.8L146.4 153.1L148.9 155.8L146.4 158.6Z"/>
<path d="M154.4 155.8L156.9 153.1L159.4 155.8L156.9 158.6Z"/>
<path d="M164.8 155.8L167.3 153.1L169.8 155.8L167.3 158.6Z"/>
<path d="M175.3 155.8L177.8 153.1L180.3 155.8L177.8 158.6Z"/>
<path d="M185.8 155.8L188.3 153.1L190.8 155.8L188.3 158.6Z"/>
<path d="M196.2 155.8L198.7 153.1L201.2 155.8L198.7 158.6Z"/>
<path d="M206.7 155.8L209.2 153.1L211.7 155.8L209.2 158.6Z"/>
<path d="M70.7 161.1L73.2 158.3L75.7 161.1L73.2 163.8Z"/>
<path d="M81.2 161.1L83.7 158.3L86.2 161.1L83.7 163.8Z"/>
<path d="M91.6 161.1L94.1 158.3L96.6 161.1L94.1 163.8Z"/>
<path d="M102.1 161.1L104.6 158.3L107.1 161.1L104.6 163.8Z"/>
<path d="M112.5 161.1L115.0 158.3L117.5 161.1L115.0 163.8Z"/>
<path d="M123.0 161.1L125.5 158.3L128.0 161.1L125.5 163.8Z"/>
<path d="M133.5 161.1L136.0 158.3L138.5 161.1L136.0 163.8Z"/>
<path d="M143.9 161.1L146.4 158.3L148.9 161.1L146.4 163.8Z"/>
<path d="M154.4 161.1L156.9 158.3L159.4 161.1L156.9 163.8Z"/>
<path d="M164.8 161.1L167.3 158.3L169.8 161.1L167.3 163.8Z"/>
<path d="M175.3 161.1L177.8 158.3L180.3 161.1L177.8 163.8Z"/>
<path d="M185.8 161.1L188.3 158.3L190.8 161.1L188.3 163.8Z"/>
<path d="M196.2 161.1L198.7 158.3L201.2 161.1L198.7 163.8Z"/>
<path d="M206.7 161.1L209.2 158.3L211.7 161.1L209.2 163.8Z"/>
<path d="M70.7 166.4L73.2 163.7L75.7 166.4L73.2 169.2Z"/>
</g>
<g fill="#3a3a6a" opacity="0.5">
<rect x="69.70" y="91.45" width="1.16" height="1.5"/>
<rect x="71.20" y="91.45" width="1.77" height="1.5"/>
<rect x="73.42" y="91.45" width="1.71" height="1.5"/>
<rect x="75.52" y="91.45" width="1.18" height="1.5"/>
<rect x="81.06" y="91.45" width="1.71" height="1.5"/>
<rect x="83.24" y="91.45" width="0.96" height="1.5"/>
<rect x="84.57" y="91.45" width="1.15" height="1.5"/>
<rect x="90.62" y="91.45" width="1.15" height="1.5"/>
<rect x="92.20" y="91.45" width="1.37" height="1.5"/>
<rect x="93.87" y="91.45" width="2.01" height="1.5"/>
<rect x="96.23" y="91.45" width="1.39" height="1.5"/>
<rect x="101.08" y="91.45" width="1.66" height="1.5"/>
<rect x="103.03" y="91.45" width="0.80" height="1.5"/>
<rect x="104.30" y="91.45" width="1.09" height="1.5"/>
<rect x="105.69" y="91.45" width="2.18" height="1.5"/>
<rect x="112.14" y="91.45" width="1.24" height="1.5"/>
<rect x="113.68" y="91.45" width="2.03" height="1.5"/>
<rect x="116.11" y="91.45" width="1.05" height="1.5"/>
<rect x="122.90" y="91.45" width="2.15" height="1.5"/>
<rect x="125.53" y="91.45" width="1.22" height="1.5"/>
<rect x="127.09" y="91.45" width="1.01" height="1.5"/>
<rect x="133.66" y="91.45" width="1.26" height="1.5"/>
<rect x="135.38" y="91.45" width="1.62" height="1.5"/>
<rect x="137.40" y="91.45" width="0.86" height="1.5"/>
<rect x="143.52" y="91.45" width="1.95" height="1.5"/>
<rect x="145.84" y="91.45" width="1.24" height="1.5"/>
<rect x="147.45" y="91.45" width="1.79" height="1.5"/>
<rect x="154.58" y="91.45" width="2.13" height="1.5"/>
<rect x="157.05" y="91.45" width="1.37" height="1.5"/>
<rect x="164.14" y="91.45" width="1.31" height="1.5"/>
<rect x="165.85" y="91.45" width="0.81" height="1.5"/>
<rect x="166.92" y="91.45" width="1.05" height="1.5"/>
<rect x="168.46" y="91.45" width="1.08" height="1.5"/>
<rect x="169.98" y="91.45" width="0.56" height="1.5"/>
<rect x="174.90" y="91.45" width="1.52" height="1.5"/>
<rect x="176.89" y="91.45" width="1.15" height="1.5"/>
<rect x="178.41" y="91.45" width="1.63" height="1.5"/>
<rect x="185.36" y="91.45" width="2.00" height="1.5"/>
<rect x="187.62" y="91.45" width="2.12" height="1.5"/>
<rect x="190.02" y="91.45" width="1.14" height="1.5"/>
<rect x="196.12" y="91.45" width="1.28" height="1.5"/>
<rect x="197.88" y="91.45" width="1.56" height="1.5"/>
<rect x="199.77" y="91.45" width="1.24" height="1.5"/>
<rect x="206.88" y="91.45" width="1.68" height="1.5"/>
<rect x="208.99" y="91.45" width="1.23" height="1.5"/>
<rect x="210.59" y="91.45" width="0.89" height="1.5"/>
<rect x="69.70" y="96.75" width="1.55" height="1.5"/>
<rect x="71.60" y="96.75" width="1.13" height="1.5"/>
<rect x="73.13" y="96.75" width="1.96" height="1.5"/>
<rect x="75.45" y="96.75" width="1.25" height="1.5"/>
<rect x="81.16" y="96.75" width="0.85" height="1.5"/>
<rect x="82.38" y="96.75" width="1.97" height="1.5"/>
<rect x="84.64" y="96.75" width="1.52" height="1.5"/>
<rect x="91.62" y="96.75" width="2.06" height="1.5"/>
<rect x="94.03" y="96.75" width="1.04" height="1.5"/>
<rect x="95.41" y="96.75" width="0.88" height="1.5"/>
<rect x="101.98" y="96.75" width="1.43" height="1.5"/>
<rect x="103.91" y="96.75" width="1.99" height="1.5"/>
<rect x="106.40" y="96.75" width="0.78" height="1.5"/>
<rect x="112.54" y="96.75" width="1.24" height="1.5"/>
<rect x="114.10" y="96.75" width="1.46" height="1.5"/>
<rect x="116.04" y="96.75" width="0.96" height="1.5"/>
<rect x="122.00" y="96.75" width="2.14" height="1.5"/>
<rect x="124.55" y="96.75" width="1.50" height="1.5"/>
<rect x="126.38" y="96.75" width="0.92" height="1.5"/>
<rect x="127.63" y="96.75" width="1.37" height="1.5"/>
<rect x="133.06" y="96.75" width="0.89" height="1.5"/>
<rect x="134.40" y="96.75" width="1.30" height="1.5"/>
<rect x="136.09" y="96.75" width="0.85" height="1.5"/>
<rect x="137.27" y="96.75" width="1.58" height="1.5"/>
<rect x="143.22" y="96.75" width="1.17" height="1.5"/>
<rect x="144.89" y="96.75" width="1.80" height="1.5"/>
<rect x="147.18" y="96.75" width="1.28" height="1.5"/>
<rect x="148.75" y="96.75" width="0.87" height="1.5"/>
<rect x="153.98" y="96.75" width="1.26" height="1.5"/>
<rect x="155.55" y="96.75" width="1.20" height="1.5"/>
<rect x="157.13" y="96.75" width="1.74" height="1.5"/>
<rect x="159.22" y="96.75" width="0.56" height="1.5"/>
<rect x="164.14" y="96.75" width="1.29" height="1.5"/>
<rect x="165.89" y="96.75" width="2.02" height="1.5"/>
<rect x="168.33" y="96.75" width="2.17" height="1.5"/>
<rect x="174.30" y="96.75" width="1.00" height="1.5"/>
<rect x="175.79" y="96.75" width="1.08" height="1.5"/>
<rect x="177.21" y="96.75" width="2.00" height="1.5"/>
<rect x="179.53" y="96.75" width="0.91" height="1.5"/>
<rect x="180.86" y="96.75" width="0.44" height="1.5"/>
<rect x="184.76" y="96.75" width="1.52" height="1.5"/>
<rect x="186.77" y="96.75" width="1.22" height="1.5"/>
<rect x="188.38" y="96.75" width="2.01" height="1.5"/>
<rect x="190.71" y="96.75" width="1.05" height="1.5"/>
<rect x="195.22" y="96.75" width="1.42" height="1.5"/>
<rect x="197.05" y="96.75" width="1.11" height="1.5"/>
<rect x="198.58" y="96.75" width="1.68" height="1.5"/>
<rect x="200.52" y="96.75" width="1.46" height="1.5"/>
<rect x="206.88" y="96.75" width="2.05" height="1.5"/>
<rect x="209.21" y="96.75" width="2.16" height="1.5"/>
<rect x="69.70" y="102.05" width="0.85" height="1.5"/>
<rect x="70.92" y="102.05" width="1.33" height="1.5"/>
<rect x="72.65" y="102.05" width="1.63" height="1.5"/>
<rect x="74.59" y="102.05" width="2.06" height="1.5"/>
<rect x="80.46" y="102.05" width="2.13" height="1.5"/>
<rect x="83.06" y="102.05" width="2.01" height="1.5"/>
<rect x="85.49" y="102.05" width="1.37" height="1.5"/>
<rect x="90.62" y="102.05" width="1.66" height="1.5"/>
<rect x="92.55" y="102.05" width="1.56" height="1.5"/>
<rect x="94.45" y="102.05" width="1.61" height="1.5"/>
<rect x="96.55" y="102.05" width="1.07" height="1.5"/>
<rect x="101.08" y="102.05" width="1.70" height="1.5"/>
<rect x="103.12" y="102.05" width="1.00" height="1.5"/>
<rect x="104.52" y="102.05" width="1.59" height="1.5"/>
<rect x="106.60" y="102.05" width="1.48" height="1.5"/>
<rect x="112.14" y="102.05" width="1.95" height="1.5"/>
<rect x="114.51" y="102.05" width="1.33" height="1.5"/>
<rect x="116.17" y="102.05" width="1.77" height="1.5"/>
<rect x="122.60" y="102.05" width="1.68" height="1.5"/>
<rect x="124.75" y="102.05" width="1.33" height="1.5"/>
<rect x="126.44" y="102.05" width="1.12" height="1.5"/>
<rect x="127.88" y="102.05" width="0.52" height="1.5"/>
<rect x="133.36" y="102.05" width="1.63" height="1.5"/>
<rect x="135.31" y="102.05" width="2.17" height="1.5"/>
<rect x="137.86" y="102.05" width="0.70" height="1.5"/>
<rect x="143.52" y="102.05" width="1.49" height="1.5"/>
<rect x="145.33" y="102.05" width="1.47" height="1.5"/>
<rect x="147.08" y="102.05" width="1.67" height="1.5"/>
<rect x="153.98" y="102.05" width="0.86" height="1.5"/>
<rect x="155.12" y="102.05" width="1.35" height="1.5"/>
<rect x="156.84" y="102.05" width="1.58" height="1.5"/>
<rect x="158.73" y="102.05" width="1.05" height="1.5"/>
<rect x="164.14" y="102.05" width="1.17" height="1.5"/>
<rect x="165.60" y="102.05" width="2.18" height="1.5"/>
<rect x="168.11" y="102.05" width="1.65" height="1.5"/>
<rect x="170.13" y="102.05" width="0.41" height="1.5"/>
<rect x="175.30" y="102.05" width="2.05" height="1.5"/>
<rect x="177.61" y="102.05" width="0.98" height="1.5"/>
<rect x="178.90" y="102.05" width="1.40" height="1.5"/>
<rect x="185.76" y="102.05" width="1.54" height="1.5"/>
<rect x="187.67" y="102.05" width="1.31" height="1.5"/>
<rect x="189.41" y="102.05" width="1.35" height="1.5"/>
<rect x="195.82" y="102.05" width="1.57" height="1.5"/>
<rect x="197.82" y="102.05" width="0.95" height="1.5"/>
<rect x="199.19" y="102.05" width="1.07" height="1.5"/>
<rect x="200.61" y="102.05" width="1.01" height="1.5"/>
<rect x="206.68" y="102.05" width="1.79" height="1.5"/>
<rect x="208.88" y="102.05" width="1.47" height="1.5"/>
<rect x="210.83" y="102.05" width="0.85" height="1.5"/>
<rect x="70.70" y="107.35" width="1.08" height="1.5"/>
<rect x="72.10" y="107.35" width="1.96" height="1.5"/>
<rect x="74.33" y="107.35" width="1.37" height="1.5"/>
<rect x="80.46" y="107.35" width="1.61" height="1.5"/>
<rect x="82.49" y="107.35" width="1.46" height="1.5"/>
<rect x="84.28" y="107.35" width="1.03" height="1.5"/>
<rect x="85.73" y="107.35" width="1.13" height="1.5"/>
<rect x="90.62" y="107.35" width="1.01" height="1.5"/>
<rect x="92.03" y="107.35" width="1.94" height="1.5"/>
<rect x="94.24" y="107.35" width="1.12" height="1.5"/>
<rect x="95.81" y="107.35" width="1.81" height="1.5"/>
<rect x="102.28" y="107.35" width="1.27" height="1.5"/>
<rect x="103.90" y="107.35" width="0.90" height="1.5"/>
<rect x="105.15" y="107.35" width="1.48" height="1.5"/>
<rect x="112.74" y="107.35" width="1.11" height="1.5"/>
<rect x="114.26" y="107.35" width="2.13" height="1.5"/>
<rect x="116.82" y="107.35" width="0.52" height="1.5"/>
<rect x="122.30" y="107.35" width="1.01" height="1.5"/>
<rect x="123.71" y="107.35" width="1.38" height="1.5"/>
<rect x="125.38" y="107.35" width="1.67" height="1.5"/>
<rect x="127.31" y="107.35" width="0.95" height="1.5"/>
<rect x="133.66" y="107.35" width="1.19" height="1.5"/>
<rect x="135.24" y="107.35" width="0.97" height="1.5"/>
<rect x="136.56" y="107.35" width="1.67" height="1.5"/>
<rect x="144.12" y="107.35" width="1.24" height="1.5"/>
<rect x="145.76" y="107.35" width="1.49" height="1.5"/>
<rect x="147.73" y="107.35" width="0.99" height="1.5"/>
<rect x="154.38" y="107.35" width="1.21" height="1.5"/>
<rect x="155.98" y="107.35" width="1.75" height="1.5"/>
<rect x="158.06" y="107.35" width="1.32" height="1.5"/>
<rect x="164.74" y="107.35" width="1.17" height="1.5"/>
<rect x="166.30" y="107.35" width="1.16" height="1.5"/>
<rect x="167.89" y="107.35" width="1.52" height="1.5"/>
<rect x="175.20" y="107.35" width="2.01" height="1.5"/>
<rect x="177.57" y="107.35" width="1.34" height="1.5"/>
<rect x="179.20" y="107.35" width="0.83" height="1.5"/>
<rect x="184.76" y="107.35" width="1.74" height="1.5"/>
<rect x="186.77" y="107.35" width="0.97" height="1.5"/>
<rect x="188.14" y="107.35" width="1.13" height="1.5"/>
<rect x="189.74" y="107.35" width="1.47" height="1.5"/>
<rect x="195.22" y="107.35" width="0.84" height="1.5"/>
<rect x="196.49" y="107.35" width="0.88" height="1.5"/>
<rect x="197.66" y="107.35" width="2.13" height="1.5"/>
<rect x="200.21" y="107.35" width="1.11" height="1.5"/>
<rect x="201.60" y="107.35" width="0.62" height="1.5"/>
<rect x="206.58" y="107.35" width="1.00" height="1.5"/>
<rect x="207.98" y="107.35" width="1.30" height="1.5"/>
<rect x="209.59" y="107.35" width="1.27" height="1.5"/>
<rect x="211.26" y="107.35" width="0.52" height="1.5"/>
<rect x="70.60" y="112.65" width="1.81" height="1.5"/>
<rect x="72.75" y="112.65" width="1.21" height="1.5"/>
<rect x="74.37" y="112.65" width="1.43" height="1.5"/>
<rect x="81.36" y="112.65" width="1.63" height="1.5"/>
<rect x="83.38" y="112.65" width="1.84" height="1.5"/>
<rect x="91.82" y="112.65" width="0.85" height="1.5"/>
<rect x="92.97" y="112.65" width="1.07" height="1.5"/>
<rect x="94.41" y="112.65" width="2.01" height="1.5"/>
<rect x="101.68" y="112.65" width="0.80" height="1.5"/>
<rect x="102.85" y="112.65" width="2.05" height="1.5"/>
<rect x="105.30" y="112.65" width="1.40" height="1.5"/>
<rect x="107.07" y="112.65" width="0.41" height="1.5"/>
<rect x="112.44" y="112.65" width="0.90" height="1.5"/>
<rect x="113.81" y="112.65" width="2.02" height="1.5"/>
<rect x="116.19" y="112.65" width="1.45" height="1.5"/>
<rect x="122.90" y="112.65" width="1.85" height="1.5"/>
<rect x="125.17" y="112.65" width="0.85" height="1.5"/>
<rect x="126.49" y="112.65" width="1.28" height="1.5"/>
<rect x="133.06" y="112.65" width="2.11" height="1.5"/>
<rect x="135.60" y="112.65" width="1.74" height="1.5"/>
<rect x="137.71" y="112.65" width="1.15" height="1.5"/>
<rect x="143.92" y="112.65" width="1.25" height="1.5"/>
<rect x="145.54" y="112.65" width="1.14" height="1.5"/>
<rect x="147.17" y="112.65" width="0.85" height="1.5"/>
<rect x="148.45" y="112.65" width="0.47" height="1.5"/>
<rect x="153.38" y="112.65" width="1.36" height="1.5"/>
<rect x="155.23" y="112.65" width="1.31" height="1.5"/>
<rect x="156.87" y="112.65" width="1.46" height="1.5"/>
<rect x="158.65" y="112.65" width="1.73" height="1.5"/>
<rect x="164.74" y="112.65" width="1.89" height="1.5"/>
<rect x="166.92" y="112.65" width="1.09" height="1.5"/>
<rect x="168.27" y="112.65" width="1.65" height="1.5"/>
<rect x="174.90" y="112.65" width="0.81" height="1.5"/>
<rect x="175.97" y="112.65" width="1.89" height="1.5"/>
<rect x="178.22" y="112.65" width="0.86" height="1.5"/>
<rect x="179.47" y="112.65" width="1.23" height="1.5"/>
<rect x="185.36" y="112.65" width="2.12" height="1.5"/>
<rect x="187.90" y="112.65" width="1.13" height="1.5"/>
<rect x="189.49" y="112.65" width="0.93" height="1.5"/>
<rect x="196.22" y="112.65" width="1.14" height="1.5"/>
<rect x="197.62" y="112.65" width="1.36" height="1.5"/>
<rect x="199.24" y="112.65" width="1.16" height="1.5"/>
<rect x="200.75" y="112.65" width="0.47" height="1.5"/>
<rect x="206.88" y="112.65" width="2.13" height="1.5"/>
<rect x="209.31" y="112.65" width="1.77" height="1.5"/>
<rect x="70.60" y="117.95" width="1.54" height="1.5"/>
<rect x="72.41" y="117.95" width="1.24" height="1.5"/>
<rect x="73.93" y="117.95" width="1.56" height="1.5"/>
<rect x="80.16" y="117.95" width="0.91" height="1.5"/>
<rect x="81.50" y="117.95" width="1.67" height="1.5"/>
<rect x="83.53" y="117.95" width="1.30" height="1.5"/>
<rect x="85.19" y="117.95" width="1.88" height="1.5"/>
<rect x="91.52" y="117.95" width="1.82" height="1.5"/>
<rect x="93.81" y="117.95" width="1.23" height="1.5"/>
<rect x="95.41" y="117.95" width="1.31" height="1.5"/>
<rect x="102.28" y="117.95" width="0.99" height="1.5"/>
<rect x="103.65" y="117.95" width="1.89" height="1.5"/>
<rect x="105.85" y="117.95" width="1.03" height="1.5"/>
<rect x="111.54" y="117.95" width="0.91" height="1.5"/>
<rect x="112.77" y="117.95" width="0.92" height="1.5"/>
<rect x="114.04" y="117.95" width="1.61" height="1.5"/>
<rect x="115.96" y="117.95" width="0.89" height="1.5"/>
<rect x="117.27" y="117.95" width="0.87" height="1.5"/>
<rect x="122.60" y="117.95" width="2.04" height="1.5"/>
<rect x="125.11" y="117.95" width="0.90" height="1.5"/>
<rect x="126.45" y="117.95" width="1.33" height="1.5"/>
<rect x="133.66" y="117.95" width="2.05" height="1.5"/>
<rect x="136.13" y="117.95" width="1.86" height="1.5"/>
<rect x="143.22" y="117.95" width="1.00" height="1.5"/>
<rect x="144.64" y="117.95" width="1.89" height="1.5"/>
<rect x="146.79" y="117.95" width="0.87" height="1.5"/>
<rect x="148.01" y="117.95" width="0.95" height="1.5"/>
<rect x="153.38" y="117.95" width="0.98" height="1.5"/>
<rect x="154.63" y="117.95" width="1.04" height="1.5"/>
<rect x="155.98" y="117.95" width="1.75" height="1.5"/>
<rect x="158.05" y="117.95" width="0.89" height="1.5"/>
<rect x="159.38" y="117.95" width="1.00" height="1.5"/>
<rect x="165.04" y="117.95" width="2.16" height="1.5"/>
<rect x="167.65" y="117.95" width="1.41" height="1.5"/>
<rect x="174.30" y="117.95" width="0.82" height="1.5"/>
<rect x="175.51" y="117.95" width="0.98" height="1.5"/>
<rect x="176.78" y="117.95" width="1.30" height="1.5"/>
<rect x="178.37" y="117.95" width="1.67" height="1.5"/>
<rect x="180.33" y="117.95" width="0.97" height="1.5"/>
<rect x="184.76" y="117.95" width="1.04" height="1.5"/>
<rect x="186.23" y="117.95" width="1.42" height="1.5"/>
<rect x="188.14" y="117.95" width="1.91" height="1.5"/>
<rect x="190.33" y="117.95" width="1.24" height="1.5"/>
<rect x="195.52" y="117.95" width="1.63" height="1.5"/>
<rect x="197.45" y="117.95" width="0.87" height="1.5"/>
<rect x="198.73" y="117.95" width="1.02" height="1.5"/>
<rect x="200.13" y="117.95" width="1.49" height="1.5"/>
<rect x="206.58" y="117.95" width="1.94" height="1.5"/>
<rect x="208.87" y="117.95" width="0.87" height="1.5"/>
<rect x="210.24" y="117.95" width="0.85" height="1.5"/>
<rect x="70.00" y="123.25" width="1.79" height="1.5"/>
<rect x="72.13" y="123.25" width="1.45" height="1.5"/>
<rect x="73.88" y="123.25" width="1.95" height="1.5"/>
<rect x="80.16" y="123.25" width="1.30" height="1.5"/>
<rect x="81.90" y="123.25" width="1.14" height="1.5"/>
<rect x="83.37" y="123.25" width="1.15" height="1.5"/>
<rect x="85.02" y="123.25" width="1.98" height="1.5"/>
<rect x="90.62" y="123.25" width="1.49" height="1.5"/>
<rect x="92.45" y="123.25" width="1.00" height="1.5"/>
<rect x="93.76" y="123.25" width="1.33" height="1.5"/>
<rect x="95.37" y="123.25" width="1.36" height="1.5"/>
<rect x="97.16" y="123.25" width="0.46" height="1.5"/>
<rect x="101.68" y="123.25" width="1.47" height="1.5"/>
<rect x="103.52" y="123.25" width="1.55" height="1.5"/>
<rect x="105.34" y="123.25" width="1.08" height="1.5"/>
<rect x="106.84" y="123.25" width="0.64" height="1.5"/>
<rect x="111.54" y="123.25" width="1.06" height="1.5"/>
<rect x="112.95" y="123.25" width="1.24" height="1.5"/>
<rect x="114.45" y="123.25" width="1.24" height="1.5"/>
<rect x="116.03" y="123.25" width="1.47" height="1.5"/>
<rect x="117.92" y="123.25" width="0.62" height="1.5"/>
<rect x="122.00" y="123.25" width="2.09" height="1.5"/>
<rect x="124.52" y="123.25" width="1.74" height="1.5"/>
<rect x="126.64" y="123.25" width="1.92" height="1.5"/>
<rect x="132.46" y="123.25" width="0.83" height="1.5"/>
<rect x="133.73" y="123.25" width="1.09" height="1.5"/>
<rect x="135.14" y="123.25" width="0.84" height="1.5"/>
<rect x="136.42" y="123.25" width="1.65" height="1.5"/>
<rect x="138.54" y="123.25" width="0.92" height="1.5"/>
<rect x="144.12" y="123.25" width="1.18" height="1.5"/>
<rect x="145.73" y="123.25" width="0.90" height="1.5"/>
<rect x="147.07" y="123.25" width="1.65" height="1.5"/>
<rect x="153.98" y="123.25" width="1.76" height="1.5"/>
<rect x="156.20" y="123.25" width="1.83" height="1.5"/>
<rect x="158.44" y="123.25" width="1.09" height="1.5"/>
<rect x="165.04" y="123.25" width="1.13" height="1.5"/>
<rect x="166.67" y="123.25" width="1.56" height="1.5"/>
<rect x="168.58" y="123.25" width="0.80" height="1.5"/>
<rect x="175.20" y="123.25" width="1.85" height="1.5"/>
<rect x="177.43" y="123.25" width="1.09" height="1.5"/>
<rect x="178.94" y="123.25" width="1.25" height="1.5"/>
<rect x="185.76" y="123.25" width="2.04" height="1.5"/>
<rect x="188.23" y="123.25" width="2.18" height="1.5"/>
<rect x="196.42" y="123.25" width="1.10" height="1.5"/>
<rect x="197.84" y="123.25" width="1.17" height="1.5"/>
<rect x="199.42" y="123.25" width="1.60" height="1.5"/>
<rect x="206.68" y="123.25" width="1.38" height="1.5"/>
<rect x="208.35" y="123.25" width="1.72" height="1.5"/>
<rect x="210.47" y="123.25" width="1.21" height="1.5"/>
<rect x="69.70" y="128.55" width="1.82" height="1.5"/>
<rect x="71.87" y="128.55" width="1.40" height="1.5"/>
<rect x="73.65" y="128.55" width="2.07" height="1.5"/>
<rect x="76.04" y="128.55" width="0.66" height="1.5"/>
<rect x="80.76" y="128.55" width="1.06" height="1.5"/>
<rect x="82.08" y="128.55" width="0.96" height="1.5"/>
<rect x="83.43" y="128.55" width="1.64" height="1.5"/>
<rect x="85.37" y="128.55" width="1.07" height="1.5"/>
<rect x="91.62" y="128.55" width="1.90" height="1.5"/>
<rect x="93.85" y="128.55" width="0.91" height="1.5"/>
<rect x="95.25" y="128.55" width="0.99" height="1.5"/>
<rect x="102.28" y="128.55" width="1.25" height="1.5"/>
<rect x="103.99" y="128.55" width="1.70" height="1.5"/>
<rect x="106.17" y="128.55" width="0.71" height="1.5"/>
<rect x="111.84" y="128.55" width="1.98" height="1.5"/>
<rect x="114.07" y="128.55" width="1.74" height="1.5"/>
<rect x="116.09" y="128.55" width="1.27" height="1.5"/>
<rect x="117.70" y="128.55" width="0.54" height="1.5"/>
<rect x="122.30" y="128.55" width="1.83" height="1.5"/>
<rect x="124.58" y="128.55" width="1.93" height="1.5"/>
<rect x="126.94" y="128.55" width="1.76" height="1.5"/>
<rect x="133.46" y="128.55" width="2.02" height="1.5"/>
<rect x="135.94" y="128.55" width="1.31" height="1.5"/>
<rect x="137.71" y="128.55" width="0.75" height="1.5"/>
<rect x="143.82" y="128.55" width="1.44" height="1.5"/>
<rect x="145.68" y="128.55" width="1.84" height="1.5"/>
<rect x="147.79" y="128.55" width="1.23" height="1.5"/>
<rect x="153.68" y="128.55" width="0.81" height="1.5"/>
<rect x="154.98" y="128.55" width="2.15" height="1.5"/>
<rect x="157.41" y="128.55" width="0.80" height="1.5"/>
<rect x="158.56" y="128.55" width="1.28" height="1.5"/>
<rect x="164.14" y="128.55" width="1.86" height="1.5"/>
<rect x="166.43" y="128.55" width="1.21" height="1.5"/>
<rect x="167.93" y="128.55" width="1.47" height="1.5"/>
<rect x="169.74" y="128.55" width="0.80" height="1.5"/>
<rect x="174.60" y="128.55" width="1.00" height="1.5"/>
<rect x="176.07" y="128.55" width="1.70" height="1.5"/>
<rect x="178.22" y="128.55" width="0.92" height="1.5"/>
<rect x="179.42" y="128.55" width="1.37" height="1.5"/>
<rect x="185.96" y="128.55" width="1.53" height="1.5"/>
<rect x="187.75" y="128.55" width="1.39" height="1.5"/>
<rect x="189.45" y="128.55" width="1.11" height="1.5"/>
<rect x="195.82" y="128.55" width="2.15" height="1.5"/>
<rect x="198.36" y="128.55" width="1.41" height="1.5"/>
<rect x="200.06" y="128.55" width="1.56" height="1.5"/>
<rect x="206.58" y="128.55" width="0.93" height="1.5"/>
<rect x="207.85" y="128.55" width="1.94" height="1.5"/>
<rect x="210.03" y="128.55" width="1.75" height="1.5"/>
<rect x="70.90" y="133.85" width="0.83" height="1.5"/>
<rect x="72.12" y="133.85" width="2.14" height="1.5"/>
<rect x="74.73" y="133.85" width="0.77" height="1.5"/>
<rect x="81.06" y="133.85" width="2.16" height="1.5"/>
<rect x="83.58" y="133.85" width="1.46" height="1.5"/>
<rect x="85.32" y="133.85" width="0.94" height="1.5"/>
<rect x="91.62" y="133.85" width="1.46" height="1.5"/>
<rect x="93.33" y="133.85" width="1.02" height="1.5"/>
<rect x="94.80" y="133.85" width="1.50" height="1.5"/>
<rect x="102.08" y="133.85" width="1.70" height="1.5"/>
<rect x="104.19" y="133.85" width="0.85" height="1.5"/>
<rect x="105.30" y="133.85" width="1.78" height="1.5"/>
<rect x="111.84" y="133.85" width="2.08" height="1.5"/>
<rect x="114.27" y="133.85" width="2.20" height="1.5"/>
<rect x="116.90" y="133.85" width="1.34" height="1.5"/>
<rect x="122.90" y="133.85" width="1.39" height="1.5"/>
<rect x="124.78" y="133.85" width="2.19" height="1.5"/>
<rect x="127.28" y="133.85" width="0.82" height="1.5"/>
<rect x="132.76" y="133.85" width="1.31" height="1.5"/>
<rect x="134.32" y="133.85" width="1.69" height="1.5"/>
<rect x="136.45" y="133.85" width="1.86" height="1.5"/>
<rect x="138.58" y="133.85" width="0.58" height="1.5"/>
<rect x="143.22" y="133.85" width="2.04" height="1.5"/>
<rect x="145.56" y="133.85" width="0.83" height="1.5"/>
<rect x="146.84" y="133.85" width="2.15" height="1.5"/>
<rect x="154.28" y="133.85" width="1.46" height="1.5"/>
<rect x="156.00" y="133.85" width="1.31" height="1.5"/>
<rect x="157.72" y="133.85" width="0.82" height="1.5"/>
<rect x="158.99" y="133.85" width="0.49" height="1.5"/>
<rect x="164.84" y="133.85" width="1.32" height="1.5"/>
<rect x="166.61" y="133.85" width="1.01" height="1.5"/>
<rect x="168.00" y="133.85" width="1.84" height="1.5"/>
<rect x="175.50" y="133.85" width="1.20" height="1.5"/>
<rect x="176.97" y="133.85" width="1.36" height="1.5"/>
<rect x="178.66" y="133.85" width="1.44" height="1.5"/>
<rect x="185.06" y="133.85" width="2.15" height="1.5"/>
<rect x="187.52" y="133.85" width="1.60" height="1.5"/>
<rect x="189.43" y="133.85" width="1.56" height="1.5"/>
<rect x="196.12" y="133.85" width="1.13" height="1.5"/>
<rect x="197.67" y="133.85" width="0.88" height="1.5"/>
<rect x="198.80" y="133.85" width="1.10" height="1.5"/>
<rect x="200.20" y="133.85" width="1.12" height="1.5"/>
<rect x="206.28" y="133.85" width="0.88" height="1.5"/>
<rect x="207.53" y="133.85" width="0.85" height="1.5"/>
<rect x="208.73" y="133.85" width="1.28" height="1.5"/>
<rect x="210.27" y="133.85" width="1.22" height="1.5"/>
<rect x="70.70" y="139.15" width="0.97" height="1.5"/>
<rect x="72.15" y="139.15" width="1.60" height="1.5"/>
<rect x="74.06" y="139.15" width="1.62" height="1.5"/>
<rect x="80.46" y="139.15" width="2.18" height="1.5"/>
<rect x="82.97" y="139.15" width="1.03" height="1.5"/>
<rect x="84.48" y="139.15" width="0.91" height="1.5"/>
<rect x="85.76" y="139.15" width="1.10" height="1.5"/>
<rect x="90.92" y="139.15" width="0.94" height="1.5"/>
<rect x="92.24" y="139.15" width="1.94" height="1.5"/>
<rect x="94.52" y="139.15" width="1.37" height="1.5"/>
<rect x="96.26" y="139.15" width="0.89" height="1.5"/>
<rect x="101.08" y="139.15" width="1.09" height="1.5"/>
<rect x="102.53" y="139.15" width="0.88" height="1.5"/>
<rect x="103.69" y="139.15" width="1.28" height="1.5"/>
<rect x="105.25" y="139.15" width="2.15" height="1.5"/>
<rect x="112.14" y="139.15" width="1.48" height="1.5"/>
<rect x="113.90" y="139.15" width="0.97" height="1.5"/>
<rect x="115.19" y="139.15" width="0.83" height="1.5"/>
<rect x="116.34" y="139.15" width="1.03" height="1.5"/>
<rect x="123.00" y="139.15" width="1.17" height="1.5"/>
<rect x="124.64" y="139.15" width="1.41" height="1.5"/>
<rect x="126.53" y="139.15" width="1.05" height="1.5"/>
<rect x="133.66" y="139.15" width="2.06" height="1.5"/>
<rect x="136.06" y="139.15" width="0.97" height="1.5"/>
<rect x="137.40" y="139.15" width="0.86" height="1.5"/>
<rect x="143.92" y="139.15" width="2.02" height="1.5"/>
<rect x="146.20" y="139.15" width="1.62" height="1.5"/>
<rect x="148.10" y="139.15" width="0.82" height="1.5"/>
<rect x="153.38" y="139.15" width="1.61" height="1.5"/>
<rect x="155.37" y="139.15" width="1.77" height="1.5"/>
<rect x="157.57" y="139.15" width="1.81" height="1.5"/>
<rect x="159.78" y="139.15" width="0.60" height="1.5"/>
<rect x="164.44" y="139.15" width="1.71" height="1.5"/>
<rect x="166.62" y="139.15" width="1.81" height="1.5"/>
<rect x="168.70" y="139.15" width="1.54" height="1.5"/>
<rect x="175.50" y="139.15" width="1.37" height="1.5"/>
<rect x="177.19" y="139.15" width="1.43" height="1.5"/>
<rect x="178.95" y="139.15" width="1.15" height="1.5"/>
<rect x="185.76" y="139.15" width="2.06" height="1.5"/>
<rect x="188.19" y="139.15" width="1.02" height="1.5"/>
<rect x="189.51" y="139.15" width="1.17" height="1.5"/>
<rect x="196.12" y="139.15" width="1.44" height="1.5"/>
<rect x="197.85" y="139.15" width="2.19" height="1.5"/>
<rect x="200.45" y="139.15" width="0.87" height="1.5"/>
<rect x="205.98" y="139.15" width="1.04" height="1.5"/>
<rect x="207.31" y="139.15" width="1.49" height="1.5"/>
<rect x="209.22" y="139.15" width="1.43" height="1.5"/>
<rect x="211.04" y="139.15" width="1.34" height="1.5"/>
<rect x="70.30" y="144.45" width="1.59" height="1.5"/>
<rect x="72.26" y="144.45" width="2.13" height="1.5"/>
<rect x="74.70" y="144.45" width="1.14" height="1.5"/>
<rect x="80.16" y="144.45" width="1.90" height="1.5"/>
<rect x="82.52" y="144.45" width="1.21" height="1.5"/>
<rect x="84.00" y="144.45" width="1.16" height="1.5"/>
<rect x="85.51" y="144.45" width="1.65" height="1.5"/>
<rect x="91.62" y="144.45" width="1.79" height="1.5"/>
<rect x="93.68" y="144.45" width="1.94" height="1.5"/>
<rect x="96.05" y="144.45" width="0.57" height="1.5"/>
<rect x="102.08" y="144.45" width="1.20" height="1.5"/>
<rect x="103.72" y="144.45" width="1.05" height="1.5"/>
<rect x="105.21" y="144.45" width="1.56" height="1.5"/>
<rect x="112.14" y="144.45" width="1.81" height="1.5"/>
<rect x="114.27" y="144.45" width="1.37" height="1.5"/>
<rect x="115.97" y="144.45" width="0.93" height="1.5"/>
<rect x="117.17" y="144.45" width="0.77" height="1.5"/>
<rect x="122.30" y="144.45" width="0.89" height="1.5"/>
<rect x="123.51" y="144.45" width="1.05" height="1.5"/>
<rect x="125.05" y="144.45" width="1.91" height="1.5"/>
<rect x="127.43" y="144.45" width="1.27" height="1.5"/>
<rect x="132.76" y="144.45" width="0.90" height="1.5"/>
<rect x="134.02" y="144.45" width="2.11" height="1.5"/>
<rect x="136.52" y="144.45" width="1.71" height="1.5"/>
<rect x="138.65" y="144.45" width="0.51" height="1.5"/>
<rect x="144.12" y="144.45" width="1.45" height="1.5"/>
<rect x="145.85" y="144.45" width="1.88" height="1.5"/>
<rect x="148.00" y="144.45" width="0.72" height="1.5"/>
<rect x="154.38" y="144.45" width="1.56" height="1.5"/>
<rect x="156.30" y="144.45" width="1.18" height="1.5"/>
<rect x="157.87" y="144.45" width="1.51" height="1.5"/>
<rect x="164.74" y="144.45" width="2.03" height="1.5"/>
<rect x="167.27" y="144.45" width="0.99" height="1.5"/>
<rect x="168.67" y="144.45" width="1.05" height="1.5"/>
<rect x="175.30" y="144.45" width="1.54" height="1.5"/>
<rect x="177.13" y="144.45" width="0.88" height="1.5"/>
<rect x="178.49" y="144.45" width="1.45" height="1.5"/>
<rect x="184.76" y="144.45" width="1.69" height="1.5"/>
<rect x="186.76" y="144.45" width="1.03" height="1.5"/>
<rect x="188.20" y="144.45" width="1.44" height="1.5"/>
<rect x="189.99" y="144.45" width="1.77" height="1.5"/>
<rect x="195.22" y="144.45" width="1.08" height="1.5"/>
<rect x="196.73" y="144.45" width="1.82" height="1.5"/>
<rect x="198.82" y="144.45" width="2.20" height="1.5"/>
<rect x="201.30" y="144.45" width="0.92" height="1.5"/>
<rect x="205.98" y="144.45" width="1.16" height="1.5"/>
<rect x="207.51" y="144.45" width="1.75" height="1.5"/>
<rect x="209.70" y="144.45" width="1.47" height="1.5"/>
<rect x="211.50" y="144.45" width="0.88" height="1.5"/>
<rect x="70.70" y="149.75" width="0.87" height="1.5"/>
<rect x="72.00" y="149.75" width="0.97" height="1.5"/>
<rect x="73.42" y="149.75" width="1.27" height="1.5"/>
<rect x="75.08" y="149.75" width="0.62" height="1.5"/>
<rect x="80.16" y="149.75" width="2.09" height="1.5"/>
<rect x="82.57" y="149.75" width="1.27" height="1.5"/>
<rect x="84.30" y="149.75" width="0.99" height="1.5"/>
<rect x="85.65" y="149.75" width="1.38" height="1.5"/>
<rect x="91.52" y="149.75" width="1.21" height="1.5"/>
<rect x="93.02" y="149.75" width="2.13" height="1.5"/>
<rect x="95.41" y="149.75" width="1.31" height="1.5"/>
<rect x="101.38" y="149.75" width="1.73" height="1.5"/>
<rect x="103.46" y="149.75" width="1.97" height="1.5"/>
<rect x="105.85" y="149.75" width="1.28" height="1.5"/>
<rect x="111.54" y="149.75" width="1.26" height="1.5"/>
<rect x="113.22" y="149.75" width="1.90" height="1.5"/>
<rect x="115.38" y="149.75" width="1.61" height="1.5"/>
<rect x="117.40" y="149.75" width="1.14" height="1.5"/>
<rect x="122.30" y="149.75" width="1.97" height="1.5"/>
<rect x="124.53" y="149.75" width="1.55" height="1.5"/>
<rect x="126.45" y="149.75" width="0.97" height="1.5"/>
<rect x="127.72" y="149.75" width="0.98" height="1.5"/>
<rect x="133.36" y="149.75" width="1.73" height="1.5"/>
<rect x="135.44" y="149.75" width="0.94" height="1.5"/>
<rect x="136.74" y="149.75" width="1.82" height="1.5"/>
<rect x="144.12" y="149.75" width="1.09" height="1.5"/>
<rect x="145.52" y="149.75" width="0.89" height="1.5"/>
<rect x="146.89" y="149.75" width="1.32" height="1.5"/>
<rect x="154.28" y="149.75" width="1.83" height="1.5"/>
<rect x="156.45" y="149.75" width="1.64" height="1.5"/>
<rect x="158.53" y="149.75" width="0.95" height="1.5"/>
<rect x="165.04" y="149.75" width="2.05" height="1.5"/>
<rect x="167.47" y="149.75" width="0.80" height="1.5"/>
<rect x="168.63" y="149.75" width="1.01" height="1.5"/>
<rect x="175.20" y="149.75" width="0.95" height="1.5"/>
<rect x="176.51" y="149.75" width="1.41" height="1.5"/>
<rect x="178.38" y="149.75" width="1.47" height="1.5"/>
<rect x="185.96" y="149.75" width="1.88" height="1.5"/>
<rect x="188.26" y="149.75" width="1.66" height="1.5"/>
<rect x="195.22" y="149.75" width="1.66" height="1.5"/>
<rect x="197.31" y="149.75" width="1.99" height="1.5"/>
<rect x="199.70" y="149.75" width="0.83" height="1.5"/>
<rect x="201.00" y="149.75" width="1.22" height="1.5"/>
<rect x="206.88" y="149.75" width="1.78" height="1.5"/>
<rect x="208.96" y="149.75" width="1.55" height="1.5"/>
<rect x="210.97" y="149.75" width="0.51" height="1.5"/>
<rect x="70.90" y="155.05" width="1.40" height="1.5"/>
<rect x="72.63" y="155.05" width="1.82" height="1.5"/>
<rect x="74.79" y="155.05" width="0.71" height="1.5"/>
<rect x="80.46" y="155.05" width="1.76" height="1.5"/>
<rect x="82.53" y="155.05" width="1.36" height="1.5"/>
<rect x="84.26" y="155.05" width="1.37" height="1.5"/>
<rect x="85.88" y="155.05" width="0.98" height="1.5"/>
<rect x="91.62" y="155.05" width="1.76" height="1.5"/>
<rect x="93.84" y="155.05" width="1.17" height="1.5"/>
<rect x="95.29" y="155.05" width="1.13" height="1.5"/>
<rect x="101.38" y="155.05" width="1.95" height="1.5"/>
<rect x="103.81" y="155.05" width="1.58" height="1.5"/>
<rect x="105.85" y="155.05" width="1.83" height="1.5"/>
<rect x="112.44" y="155.05" width="1.26" height="1.5"/>
<rect x="114.01" y="155.05" width="1.75" height="1.5"/>
<rect x="116.21" y="155.05" width="1.07" height="1.5"/>
<rect x="122.90" y="155.05" width="1.31" height="1.5"/>
<rect x="124.49" y="155.05" width="1.65" height="1.5"/>
<rect x="126.47" y="155.05" width="1.00" height="1.5"/>
<rect x="133.66" y="155.05" width="1.56" height="1.5"/>
<rect x="135.65" y="155.05" width="2.13" height="1.5"/>
<rect x="143.92" y="155.05" width="1.57" height="1.5"/>
<rect x="145.98" y="155.05" width="1.97" height="1.5"/>
<rect x="148.28" y="155.05" width="0.64" height="1.5"/>
<rect x="154.28" y="155.05" width="1.31" height="1.5"/>
<rect x="156.09" y="155.05" width="1.81" height="1.5"/>
<rect x="158.25" y="155.05" width="1.23" height="1.5"/>
<rect x="163.84" y="155.05" width="1.43" height="1.5"/>
<rect x="165.75" y="155.05" width="1.65" height="1.5"/>
<rect x="167.79" y="155.05" width="1.04" height="1.5"/>
<rect x="169.18" y="155.05" width="1.42" height="1.5"/>
<rect x="175.20" y="155.05" width="1.47" height="1.5"/>
<rect x="176.95" y="155.05" width="1.52" height="1.5"/>
<rect x="178.91" y="155.05" width="1.48" height="1.5"/>
<rect x="185.76" y="155.05" width="1.63" height="1.5"/>
<rect x="187.67" y="155.05" width="1.82" height="1.5"/>
<rect x="189.84" y="155.05" width="0.92" height="1.5"/>
<rect x="196.42" y="155.05" width="1.23" height="1.5"/>
<rect x="198.07" y="155.05" width="0.97" height="1.5"/>
<rect x="199.43" y="155.05" width="0.92" height="1.5"/>
<rect x="206.68" y="155.05" width="1.69" height="1.5"/>
<rect x="208.63" y="155.05" width="1.52" height="1.5"/>
<rect x="210.52" y="155.05" width="1.16" height="1.5"/>
<rect x="70.30" y="160.35" width="1.66" height="1.5"/>
<rect x="72.36" y="160.35" width="2.16" height="1.5"/>
<rect x="74.89" y="160.35" width="1.21" height="1.5"/>
<rect x="80.16" y="160.35" width="1.22" height="1.5"/>
<rect x="81.87" y="160.35" width="1.21" height="1.5"/>
<rect x="83.35" y="160.35" width="1.28" height="1.5"/>
<rect x="85.12" y="160.35" width="0.92" height="1.5"/>
<rect x="86.38" y="160.35" width="0.78" height="1.5"/>
<rect x="90.92" y="160.35" width="1.26" height="1.5"/>
<rect x="92.63" y="160.35" width="1.50" height="1.5"/>
<rect x="94.39" y="160.35" width="2.15" height="1.5"/>
<rect x="102.28" y="160.35" width="1.63" height="1.5"/>
<rect x="104.39" y="160.35" width="1.23" height="1.5"/>
<rect x="105.98" y="160.35" width="0.90" height="1.5"/>
<rect x="111.54" y="160.35" width="1.51" height="1.5"/>
<rect x="113.51" y="160.35" width="1.60" height="1.5"/>
<rect x="115.47" y="160.35" width="1.72" height="1.5"/>
<rect x="117.59" y="160.35" width="0.95" height="1.5"/>
<rect x="122.90" y="160.35" width="0.89" height="1.5"/>
<rect x="124.12" y="160.35" width="0.85" height="1.5"/>
<rect x="125.42" y="160.35" width="1.39" height="1.5"/>
<rect x="127.29" y="160.35" width="0.81" height="1.5"/>
<rect x="133.36" y="160.35" width="1.83" height="1.5"/>
<rect x="135.45" y="160.35" width="0.95" height="1.5"/>
<rect x="136.84" y="160.35" width="1.72" height="1.5"/>
<rect x="144.12" y="160.35" width="1.21" height="1.5"/>
<rect x="145.66" y="160.35" width="1.40" height="1.5"/>
<rect x="147.37" y="160.35" width="1.35" height="1.5"/>
<rect x="154.38" y="160.35" width="1.27" height="1.5"/>
<rect x="156.07" y="160.35" width="1.51" height="1.5"/>
<rect x="158.05" y="160.35" width="1.33" height="1.5"/>
<rect x="165.04" y="160.35" width="1.05" height="1.5"/>
<rect x="166.46" y="160.35" width="1.25" height="1.5"/>
<rect x="168.11" y="160.35" width="0.96" height="1.5"/>
<rect x="174.90" y="160.35" width="2.09" height="1.5"/>
<rect x="177.32" y="160.35" width="1.68" height="1.5"/>
<rect x="179.28" y="160.35" width="1.36" height="1.5"/>
<rect x="185.36" y="160.35" width="0.98" height="1.5"/>
<rect x="186.78" y="160.35" width="1.82" height="1.5"/>
<rect x="188.96" y="160.35" width="1.19" height="1.5"/>
<rect x="190.44" y="160.35" width="0.72" height="1.5"/>
<rect x="195.52" y="160.35" width="1.24" height="1.5"/>
<rect x="197.06" y="160.35" width="1.02" height="1.5"/>
<rect x="198.56" y="160.35" width="1.52" height="1.5"/>
<rect x="200.36" y="160.35" width="1.33" height="1.5"/>
<rect x="206.58" y="160.35" width="1.72" height="1.5"/>
<rect x="208.61" y="160.35" width="1.50" height="1.5"/>
<rect x="210.51" y="160.35" width="1.27" height="1.5"/>
<rect x="69.70" y="165.65" width="1.23" height="1.5"/>
<rect x="71.26" y="165.65" width="1.66" height="1.5"/>
<rect x="73.21" y="165.65" width="2.11" height="1.5"/>
<rect x="75.58" y="165.65" width="1.12" height="1.5"/>
</g>
<g fill="#a0ff30">
<polygon points="136.4,210.5 138.4,206.8 142.2,206.8 144.2,210.5 142.2,214.2 138.4,214.2"/>
<polygon points="109.9,206.5 111.8,202.8 115.7,202.8 117.7,206.5 115.7,210.2 111.8,210.2"/>
<polygon points="85.7,194.9 87.7,191.2 91.6,191.2 93.5,194.9 91.6,198.6 87.7,198.6"/>
<polygon points="66.0,176.6 68.0,172.9 71.9,172.9 73.8,176.6 71.9,180.3 68.0,180.3"/>
<polygon points="52.6,153.4 54.6,149.7 58.5,149.7 60.4,153.4 58.5,157.1 54.6,157.1"/>
<polygon points="46.7,127.2 48.6,123.5 52.5,123.5 54.5,127.2 52.5,130.9 48.6,130.9"/>
<polygon points="48.7,100.5 50.6,96.8 54.5,96.8 56.5,100.5 54.5,104.2 50.6,104.2"/>
<polygon points="58.5,75.5 60.4,71.8 64.3,71.8 66.3,75.5 64.3,79.2 60.4,79.2"/>
<polygon points="75.2,54.5 77.1,50.8 81.0,50.8 83.0,54.5 81.0,58.2 77.1,58.2"/>
<polygon points="97.4,39.4 99.3,35.7 103.2,35.7 105.2,39.4 103.2,43.1 99.3,43.1"/>
<polygon points="123.0,31.5 124.9,27.8 128.8,27.8 130.8,31.5 128.8,35.2 124.9,35.2"/>
<polygon points="149.8,31.5 151.8,27.8 155.7,27.8 157.6,31.5 155.7,35.2 151.8,35.2"/>
<polygon points="175.4,39.4 177.4,35.7 181.3,35.7 183.2,39.4 181.3,43.1 177.4,43.1"/>
<polygon points="197.6,54.5 199.6,50.8 203.5,50.8 205.4,54.5 203.5,58.2 199.6,58.2"/>
<polygon points="214.3,75.5 216.3,71.8 220.2,71.8 222.1,75.5 220.2,79.2 216.3,79.2"/>
<polygon points="224.1,100.5 226.1,96.8 230.0,96.8 231.9,100.5 230.0,104.2 226.1,104.2"/>
<polygon points="226.1,127.2 228.1,123.5 232.0,123.5 233.9,127.2 232.0,130.9 228.1,130.9"/>
<polygon points="220.2,153.4 222.1,149.7 226.0,149.7 228.0,153.4 226.0,157.1 222.1,157.1"/>
<polygon points="206.8,176.6 208.7,172.9 212.6,172.9 214.6,176.6 212.6,180.3 208.7,180.3"/>
<polygon points="187.1,194.9 189.0,191.2 192.9,191.2 194.9,194.9 192.9,198.6 189.0,198.6"/>
<polygon points="162.9,206.5 164.9,202.8 168.8,202.8 170.7,206.5 168.8,210.2 164.9,210.2"/>
</g>
<g fill="#111" stroke="#111" stroke-width="0.08" font-family='"Liberation Sans", sans-serif' font-size="3.1" text-anchor="middle">
<text x="140.3" y="211.5">pelargonidin</text>
<text x="113.8" y="205.9">Eleutheroside</text>
<text x="113.8" y="209.1">E</text>
<text x="89.6" y="195.9">amygdalin</text>
<text x="69.9" y="177.6">Melafolone</text>
<text x="56.5" y="154.4">stearin</text>
<text x="50.6" y="128.2">gamma-sitosterol</text>
<text x="52.6" y="101.5">suffruticoside a</text>
<text x="62.4" y="76.5">isolinolicacid</text>
<text x="79.1" y="53.9">suffruticoside</text>
<text x="79.1" y="57.1">a</text>
<text x="101.3" y="40.4">quercetin</text>
<text x="126.9" y="32.5">stearol</text>
<text x="153.7" y="32.5">kol-Eleutheroside glycoside</text>
<text x="179.3" y="40.4">Isofolicacid</text>
<text x="201.5" y="55.5">beta-sitol</text>
<text x="218.2" y="76.5">sitosterol</text>
<text x="228.0" y="101.5">stearin</text>
<text x="230.0" y="128.2">linolein</text>
<text x="224.1" y="154.4">hexadecane</text>
<text x="210.7" y="177.6">squalene</text>
<text x="191.0" y="195.9">oleanolicacid</text>
<text x="166.8" y="207.5">chlorogenic</text>
</g>
<polygon points="133.2,80.8 145.0,80.8 139.1,69.1" fill="#ee5262"/>
<text x="138.60" y="74.40" font-size="4.5" fill="#2a2a2a" text-anchor="middle" font-family='"Liberation Sans", sans-serif' textLength="15" lengthAdjust="spacingAndGlyphs">Cisplatin</text>
<text x="138.60" y="78.80" font-size="4.5" fill="#2a2a2a" text-anchor="middle" font-family='"Liberation Sans", sans-serif' textLength="19.3" lengthAdjust="spacingAndGlyphs">Ototoxicity</text>
<rect x="315" y="19.2" width="311" height="186" fill="#fff" stroke="#d9d9d9" stroke-width="0.9"/>
<text x="470.80" y="37.00" font-size="10.3" fill="#595959" text-anchor="middle" font-family='"Liberation Sans", sans-serif' textLength="34.4" lengthAdjust="spacingAndGlyphs">Degree</text>
<g stroke="#d9d9d9" stroke-width="0.9">
<line x1="382.2" y1="52" x2="382.2" y2="184.5"/>
<line x1="421.3" y1="52" x2="421.3" y2="184.5"/>
<line x1="460.4" y1="52" x2="460.4" y2="184.5"/>
<line x1="499.5" y1="52" x2="499.5" y2="184.5"/>
<line x1="538.6" y1="52" x2="538.6" y2="184.5"/>
<line x1="577.7" y1="52" x2="577.7" y2="184.5"/>
<line x1="616.8" y1="52" x2="616.8" y2="184.5"/>
</g>
<rect x="382.2" y="57.35" width="82.1" height="4.7" fill="#5b9bd5"/>
<text x="376.90" y="62.40" font-size="7.9" fill="#595959" text-anchor="end" font-family='"Liberation Sans", sans-serif' textLength="29.8" lengthAdjust="spacingAndGlyphs">quercetin</text>
<text x="470.21" y="62.40" font-size="7.8" fill="#595959" text-anchor="start" font-family='"Liberation Sans", sans-serif' >21</text>
<rect x="382.2" y="72.05" width="82.1" height="4.7" fill="#5b9bd5"/>
<text x="376.90" y="77.10" font-size="7.9" fill="#595959" text-anchor="end" font-family='"Liberation Sans", sans-serif' textLength="45.0" lengthAdjust="spacingAndGlyphs">beta-sitosterol</text>
<text x="470.21" y="77.10" font-size="7.8" fill="#595959" text-anchor="start" font-family='"Liberation Sans", sans-serif' >21</text>
<rect x="382.2" y="86.75" width="82.1" height="4.7" fill="#5b9bd5"/>
<text x="376.90" y="91.80" font-size="7.9" fill="#595959" text-anchor="end" font-family='"Liberation Sans", sans-serif' textLength="37.8" lengthAdjust="spacingAndGlyphs">isolinolicacid</text>
<text x="470.21" y="91.80" font-size="7.8" fill="#595959" text-anchor="start" font-family='"Liberation Sans", sans-serif' >21</text>
<rect x="382.2" y="101.45" width="82.1" height="4.7" fill="#5b9bd5"/>
<text x="376.90" y="106.50" font-size="7.9" fill="#595959" text-anchor="end" font-family='"Liberation Sans", sans-serif' textLength="47.8" lengthAdjust="spacingAndGlyphs">suffruticoside a</text>
<text x="470.21" y="106.50" font-size="7.8" fill="#595959" text-anchor="start" font-family='"Liberation Sans", sans-serif' >21</text>
<rect x="382.2" y="116.15" width="86.0" height="4.7" fill="#5b9bd5"/>
<text x="376.90" y="121.20" font-size="7.9" fill="#595959" text-anchor="end" font-family='"Liberation Sans", sans-serif' textLength="54.4" lengthAdjust="spacingAndGlyphs">gamma-sitosterol</text>
<text x="474.12" y="121.20" font-size="7.8" fill="#595959" text-anchor="start" font-family='"Liberation Sans", sans-serif' >22</text>
<rect x="382.2" y="130.85" width="86.0" height="4.7" fill="#5b9bd5"/>
<text x="376.90" y="135.90" font-size="7.9" fill="#595959" text-anchor="end" font-family='"Liberation Sans", sans-serif' textLength="21.9" lengthAdjust="spacingAndGlyphs">stearin</text>
<text x="474.12" y="135.90" font-size="7.8" fill="#595959" text-anchor="start" font-family='"Liberation Sans", sans-serif' >22</text>
<rect x="382.2" y="145.55" width="109.5" height="4.7" fill="#5b9bd5"/>
<text x="376.90" y="150.60" font-size="7.9" fill="#595959" text-anchor="end" font-family='"Liberation Sans", sans-serif' textLength="35.2" lengthAdjust="spacingAndGlyphs">Melafolone</text>
<text x="497.58" y="150.60" font-size="7.8" fill="#595959" text-anchor="start" font-family='"Liberation Sans", sans-serif' >28</text>
<rect x="382.2" y="160.25" width="136.8" height="4.7" fill="#5b9bd5"/>
<text x="376.90" y="165.30" font-size="7.9" fill="#595959" text-anchor="end" font-family='"Liberation Sans", sans-serif' textLength="31.9" lengthAdjust="spacingAndGlyphs">amygdalin</text>
<text x="524.95" y="165.30" font-size="7.8" fill="#595959" text-anchor="start" font-family='"Liberation Sans", sans-serif' >35</text>
<rect x="382.2" y="174.95" width="191.6" height="4.7" fill="#5b9bd5"/>
<text x="376.90" y="180.00" font-size="7.9" fill="#595959" text-anchor="end" font-family='"Liberation Sans", sans-serif' textLength="50.5" lengthAdjust="spacingAndGlyphs">Eleutheroside E</text>
<text x="579.69" y="180.00" font-size="7.8" fill="#595959" text-anchor="start" font-family='"Liberation Sans", sans-serif' >49</text>
<text x="382.20" y="197.40" font-size="7.6" fill="#595959" text-anchor="middle" font-family='"Liberation Sans", sans-serif' >0</text>
<text x="421.30" y="197.40" font-size="7.6" fill="#595959" text-anchor="middle" font-family='"Liberation Sans", sans-serif' >10</text>
<text x="460.40" y="197.40" font-size="7.6" fill="#595959" text-anchor="middle" font-family='"Liberation Sans", sans-serif' >20</text>
<text x="499.50" y="197.40" font-size="7.6" fill="#595959" text-anchor="middle" font-family='"Liberation Sans", sans-serif' >30</text>
<text x="538.60" y="197.40" font-size="7.6" fill="#595959" text-anchor="middle" font-family='"Liberation Sans", sans-serif' >40</text>
<text x="577.70" y="197.40" font-size="7.6" fill="#595959" text-anchor="middle" font-family='"Liberation Sans", sans-serif' >50</text>
<text x="616.80" y="197.40" font-size="7.6" fill="#595959" text-anchor="middle" font-family='"Liberation Sans", sans-serif' >60</text>
<rect x="316.6" y="168.9" width="64.4" height="15.3" fill="none" stroke="#cfcfcf" stroke-width="0.8"/>
<line x1="316.6" y1="184.2" x2="306.9" y2="223.3" stroke="#a6a6a6" stroke-width="0.6"/>
<line x1="381" y1="184.2" x2="390.6" y2="223.3" stroke="#a6a6a6" stroke-width="0.6"/>
<rect x="306.9" y="223.3" width="83.7" height="116.4" fill="#f4f4f4" stroke="#c8c8c8" stroke-width="0.7"/>
<g stroke="#3a3a3a" stroke-width="0.55" stroke-linecap="round">
<line x1="359.27" y1="245.54" x2="365.32" y2="248.94"/>
<line x1="365.32" y1="248.94" x2="371.56" y2="245.54"/>
<line x1="371.56" y1="245.54" x2="371.56" y2="238.36"/>
<line x1="371.56" y1="238.36" x2="365.32" y2="234.57"/>
<line x1="365.32" y1="234.57" x2="359.27" y2="238.36"/>
<line x1="359.27" y1="238.36" x2="359.27" y2="245.54"/>
<line x1="359.27" y1="238.36" x2="355.11" y2="235.90"/>
<line x1="365.32" y1="234.57" x2="365.32" y2="229.28"/>
<line x1="371.56" y1="238.36" x2="375.91" y2="235.90"/>
<line x1="371.56" y1="245.54" x2="377.23" y2="248.75"/>
<line x1="377.23" y1="248.75" x2="382.33" y2="246.29"/>
<line x1="359.27" y1="245.54" x2="354.74" y2="247.81"/>
<line x1="354.74" y1="247.81" x2="354.74" y2="253.10"/>
<line x1="354.74" y1="253.10" x2="360.41" y2="256.31"/>
<line x1="360.41" y1="256.31" x2="360.41" y2="263.50"/>
<line x1="360.41" y1="263.50" x2="354.74" y2="266.71"/>
<line x1="354.74" y1="266.71" x2="349.06" y2="263.50"/>
<line x1="349.06" y1="263.50" x2="349.06" y2="256.31"/>
<line x1="349.06" y1="256.31" x2="354.74" y2="253.10"/>
<line x1="350.01" y1="257.26" x2="350.01" y2="262.93"/>
<line x1="359.46" y1="257.26" x2="359.46" y2="262.93"/>
<line x1="354.74" y1="265.58" x2="349.82" y2="262.93"/>
<line x1="349.06" y1="256.31" x2="343.58" y2="254.23"/>
<line x1="343.58" y1="254.23" x2="338.10" y2="257.26"/>
<line x1="360.41" y1="256.31" x2="365.89" y2="254.23"/>
<line x1="365.89" y1="254.23" x2="370.99" y2="258.02"/>
<line x1="354.74" y1="266.71" x2="354.74" y2="273.33"/>
<line x1="354.74" y1="273.33" x2="360.22" y2="277.30"/>
<line x1="360.22" y1="277.30" x2="357.95" y2="283.72"/>
<line x1="357.95" y1="283.72" x2="351.71" y2="285.99"/>
<line x1="351.71" y1="285.99" x2="348.31" y2="278.05"/>
<line x1="348.31" y1="278.05" x2="354.74" y2="273.33"/>
<line x1="348.31" y1="278.05" x2="342.64" y2="279.57"/>
<line x1="342.64" y1="279.57" x2="339.99" y2="284.86"/>
<line x1="339.99" y1="284.86" x2="345.28" y2="289.40"/>
<line x1="345.28" y1="289.40" x2="351.71" y2="285.99"/>
<line x1="345.28" y1="289.40" x2="345.66" y2="295.07"/>
<line x1="345.66" y1="295.07" x2="351.33" y2="298.47"/>
<line x1="351.33" y1="298.47" x2="351.33" y2="305.09"/>
<line x1="351.33" y1="305.09" x2="345.66" y2="308.30"/>
<line x1="345.66" y1="308.30" x2="339.99" y2="305.09"/>
<line x1="339.99" y1="305.09" x2="339.99" y2="298.47"/>
<line x1="339.99" y1="298.47" x2="345.66" y2="295.07"/>
<line x1="340.94" y1="299.22" x2="340.94" y2="304.52"/>
<line x1="350.39" y1="299.22" x2="350.39" y2="304.52"/>
<line x1="345.66" y1="307.16" x2="350.58" y2="304.52"/>
<line x1="339.99" y1="305.09" x2="334.70" y2="307.16"/>
<line x1="334.70" y1="307.16" x2="329.40" y2="304.52"/>
<line x1="351.33" y1="305.09" x2="356.63" y2="307.16"/>
<line x1="356.63" y1="307.16" x2="362.11" y2="304.52"/>
<line x1="345.66" y1="308.30" x2="345.66" y2="313.59"/>
<line x1="345.66" y1="313.59" x2="340.37" y2="316.81"/>
<line x1="340.37" y1="316.81" x2="340.37" y2="324.37"/>
<line x1="340.37" y1="324.37" x2="334.32" y2="328.15"/>
<line x1="334.32" y1="328.15" x2="328.08" y2="324.37"/>
<line x1="328.08" y1="324.37" x2="328.08" y2="316.81"/>
<line x1="328.08" y1="316.81" x2="334.32" y2="313.59"/>
<line x1="334.32" y1="313.59" x2="340.37" y2="316.81"/>
<line x1="328.08" y1="316.81" x2="322.79" y2="313.97"/>
<line x1="322.79" y1="313.97" x2="316.74" y2="316.81"/>
<line x1="340.37" y1="324.37" x2="345.66" y2="326.82"/>
<line x1="334.32" y1="328.15" x2="334.32" y2="333.82"/>
<line x1="328.08" y1="324.37" x2="323.73" y2="327.20"/>
</g>
<polygon points="359.27,245.54 354.78,246.95 355.45,248.29" fill="#222"/>
<polygon points="371.56,245.54 376.48,249.21 377.22,247.91" fill="#222"/>
<polygon points="354.74,267.28 353.99,272.95 355.49,272.95" fill="#222"/>
<polygon points="345.28,289.77 344.91,294.75 346.41,294.63" fill="#222"/>
<polygon points="340.37,316.81 345.66,314.62 344.91,313.32" fill="#222"/>
<polygon points="328.08,316.81 323.52,313.50 322.81,314.82" fill="#222"/>
<g fill="#f03030">
<circle cx="365.32" cy="248.94" r="1.1"/>
<circle cx="354.74" cy="247.81" r="1.1"/>
<circle cx="355.11" cy="235.90" r="1.1"/>
<circle cx="365.32" cy="229.28" r="1.1"/>
<circle cx="375.91" cy="235.90" r="1.1"/>
<circle cx="382.33" cy="246.29" r="1.1"/>
<circle cx="343.58" cy="254.23" r="1.1"/>
<circle cx="365.89" cy="254.23" r="1.1"/>
<circle cx="360.22" cy="277.30" r="1.1"/>
<circle cx="339.99" cy="284.86" r="1.1"/>
<circle cx="334.70" cy="307.16" r="1.1"/>
<circle cx="356.63" cy="307.16" r="1.1"/>
<circle cx="345.66" cy="313.59" r="1.1"/>
<circle cx="334.32" cy="313.59" r="1.1"/>
<circle cx="316.74" cy="316.81" r="1.1"/>
<circle cx="345.66" cy="326.82" r="1.1"/>
<circle cx="334.32" cy="333.82" r="1.1"/>
<circle cx="323.73" cy="327.20" r="1.1"/>
</g>
<g fill="#6fa6a6">
<circle cx="353.90" cy="231.10" r="0.75"/>
<circle cx="369.10" cy="226.60" r="0.75"/>
<circle cx="376.19" cy="231.10" r="0.75"/>
<circle cx="385.17" cy="246.86" r="0.75"/>
<circle cx="313.34" cy="314.35" r="0.75"/>
<circle cx="349.82" cy="329.09" r="0.75"/>
<circle cx="335.45" cy="337.03" r="0.75"/>
<circle cx="322.60" cy="330.60" r="0.75"/>
<circle cx="349.82" cy="274.27" r="0.75"/>
<circle cx="353.60" cy="289.40" r="0.75"/>
</g>
<g stroke="#9a9a9a" stroke-width="0.4">
<line x1="61.9" y1="348.6" x2="233.7" y2="348.6"/>
<line x1="64.1" y1="329.5" x2="231.5" y2="329.5"/>
<line x1="64.1" y1="367.8" x2="231.5" y2="367.8"/>
<line x1="80.6" y1="295.1" x2="185.1" y2="271.3"/>
<line x1="70.4" y1="311.4" x2="185.1" y2="271.3"/>
<line x1="94.2" y1="281.5" x2="185.1" y2="271.3"/>
<line x1="110.5" y1="271.3" x2="110.5" y2="426.0"/>
<line x1="110.5" y1="271.3" x2="94.2" y2="415.8"/>
<line x1="128.7" y1="264.9" x2="128.7" y2="432.4"/>
<line x1="128.7" y1="264.9" x2="110.5" y2="426.0"/>
<line x1="147.8" y1="262.8" x2="80.6" y2="402.2"/>
<line x1="147.8" y1="262.8" x2="231.5" y2="367.8"/>
<line x1="147.8" y1="262.8" x2="233.7" y2="348.6"/>
<line x1="166.9" y1="264.9" x2="147.8" y2="434.5"/>
<line x1="166.9" y1="264.9" x2="94.2" y2="415.8"/>
<line x1="166.9" y1="264.9" x2="70.4" y2="385.9"/>
<line x1="166.9" y1="264.9" x2="70.4" y2="311.4"/>
<line x1="185.1" y1="271.3" x2="128.7" y2="432.4"/>
<line x1="185.1" y1="271.3" x2="70.4" y2="385.9"/>
<line x1="201.4" y1="281.5" x2="110.5" y2="426.0"/>
<line x1="201.4" y1="281.5" x2="201.4" y2="415.8"/>
<line x1="201.4" y1="281.5" x2="64.1" y2="367.8"/>
<line x1="215.0" y1="295.1" x2="128.7" y2="432.4"/>
<line x1="215.0" y1="295.1" x2="80.6" y2="402.2"/>
<line x1="215.0" y1="295.1" x2="110.5" y2="271.3"/>
<line x1="225.2" y1="311.4" x2="94.2" y2="415.8"/>
<line x1="225.2" y1="311.4" x2="64.1" y2="367.8"/>
<line x1="231.5" y1="329.5" x2="70.4" y2="385.9"/>
<line x1="231.5" y1="329.5" x2="64.1" y2="367.8"/>
<line x1="225.2" y1="385.9" x2="128.7" y2="432.4"/>
<line x1="225.2" y1="385.9" x2="110.5" y2="426.0"/>
<line x1="215.0" y1="402.2" x2="128.7" y2="432.4"/>
<line x1="215.0" y1="402.2" x2="110.5" y2="426.0"/>
<line x1="201.4" y1="415.8" x2="128.7" y2="432.4"/>
<line x1="185.1" y1="426.0" x2="110.5" y2="426.0"/>
<line x1="166.9" y1="432.4" x2="128.7" y2="432.4"/>
<line x1="147.8" y1="262.8" x2="201.4" y2="415.8"/>
<line x1="201.4" y1="281.5" x2="70.4" y2="385.9"/>
<line x1="80.6" y1="295.1" x2="128.7" y2="432.4"/>
<line x1="80.6" y1="295.1" x2="110.5" y2="426.0"/>
<line x1="70.4" y1="311.4" x2="128.7" y2="432.4"/>
<line x1="64.1" y1="329.5" x2="110.5" y2="426.0"/>
<line x1="61.9" y1="348.6" x2="128.7" y2="432.4"/>
<line x1="64.1" y1="367.8" x2="128.7" y2="432.4"/>
<line x1="70.4" y1="385.9" x2="128.7" y2="432.4"/>
<line x1="80.6" y1="402.2" x2="128.7" y2="432.4"/>
<line x1="70.4" y1="385.9" x2="110.5" y2="426.0"/>
<line x1="80.6" y1="402.2" x2="110.5" y2="426.0"/>
<line x1="94.2" y1="415.8" x2="128.7" y2="432.4"/>
<line x1="64.1" y1="367.8" x2="94.2" y2="415.8"/>
<line x1="64.1" y1="329.5" x2="94.2" y2="415.8"/>
<line x1="70.4" y1="311.4" x2="94.2" y2="415.8"/>
<line x1="80.6" y1="295.1" x2="94.2" y2="415.8"/>
<line x1="94.2" y1="281.5" x2="110.5" y2="426.0"/>
<line x1="94.2" y1="281.5" x2="94.2" y2="415.8"/>
<line x1="110.5" y1="271.3" x2="128.7" y2="432.4"/>
<line x1="128.7" y1="264.9" x2="201.4" y2="415.8"/>
<line x1="233.7" y1="348.6" x2="80.6" y2="402.2"/>
<line x1="231.5" y1="329.5" x2="94.2" y2="415.8"/>
<line x1="231.5" y1="367.8" x2="110.5" y2="426.0"/>
<line x1="215.0" y1="295.1" x2="70.4" y2="385.9"/>
<line x1="225.2" y1="311.4" x2="61.9" y2="348.6"/>
<line x1="147.8" y1="434.5" x2="64.1" y2="329.5"/>
<line x1="166.9" y1="432.4" x2="61.9" y2="348.6"/>
<line x1="185.1" y1="426.0" x2="70.4" y2="311.4"/>
<line x1="166.9" y1="264.9" x2="201.4" y2="415.8"/>
<line x1="61.9" y1="348.6" x2="80.6" y2="402.2"/>
<line x1="61.9" y1="348.6" x2="94.2" y2="415.8"/>
<line x1="64.1" y1="329.5" x2="70.4" y2="385.9"/>
<line x1="64.1" y1="329.5" x2="80.6" y2="402.2"/>
<line x1="64.1" y1="367.8" x2="110.5" y2="426.0"/>
<line x1="70.4" y1="385.9" x2="94.2" y2="415.8"/>
<line x1="70.4" y1="311.4" x2="70.4" y2="385.9"/>
<line x1="80.6" y1="295.1" x2="64.1" y2="367.8"/>
<line x1="61.9" y1="348.6" x2="70.4" y2="385.9"/>
</g>
<circle cx="147.8" cy="262.8" r="2.2" fill="#a8f030"/>
<circle cx="166.9" cy="264.9" r="2.2" fill="#a8f030"/>
<circle cx="185.1" cy="271.3" r="2.0" fill="#a8f030"/>
<circle cx="201.4" cy="281.5" r="2.0" fill="#c0e428"/>
<circle cx="215.0" cy="295.1" r="1.9" fill="#c0e428"/>
<circle cx="225.2" cy="311.4" r="1.8" fill="#c0e428"/>
<circle cx="231.5" cy="329.5" r="1.7" fill="#c0e428"/>
<circle cx="233.7" cy="348.6" r="1.6" fill="#c0e428"/>
<circle cx="231.5" cy="367.8" r="1.5" fill="#c0e428"/>
<circle cx="225.2" cy="385.9" r="1.5" fill="#c0e428"/>
<circle cx="215.0" cy="402.2" r="1.5" fill="#c0e428"/>
<circle cx="201.4" cy="415.8" r="1.5" fill="#c0e428"/>
<circle cx="185.1" cy="426.0" r="0.8" fill="#c0e428"/>
<circle cx="166.9" cy="432.4" r="0.5" fill="#c0e428"/>
<circle cx="147.8" cy="434.5" r="0.4" fill="#c0e428"/>
<circle cx="128.7" cy="432.4" r="8.5" fill="#3d9b6b"/>
<circle cx="110.5" cy="426.0" r="7.9" fill="#4fc063"/>
<circle cx="94.2" cy="415.8" r="7.0" fill="#55ee45"/>
<circle cx="80.6" cy="402.2" r="6.4" fill="#60f440"/>
<circle cx="70.4" cy="385.9" r="6.0" fill="#66f43c"/>
<circle cx="64.1" cy="367.8" r="6.2" fill="#66f43c"/>
<circle cx="61.9" cy="348.6" r="4.9" fill="#6ef53a"/>
<circle cx="64.1" cy="329.5" r="4.4" fill="#6ef53a"/>
<circle cx="70.4" cy="311.4" r="3.9" fill="#7ef536"/>
<circle cx="80.6" cy="295.1" r="3.8" fill="#86f334"/>
<circle cx="94.2" cy="281.5" r="3.0" fill="#90f232"/>
<circle cx="110.5" cy="271.3" r="3.0" fill="#98f030"/>
<circle cx="128.7" cy="264.9" r="2.4" fill="#a0f030"/>
<text x="147.80" y="263.74" font-size="3.0" fill="#111" text-anchor="middle" font-family='"Liberation Serif", serif' stroke="#111" stroke-width="0.1">FMO1</text>
<text x="166.91" y="265.89" font-size="3.0" fill="#111" text-anchor="middle" font-family='"Liberation Serif", serif' stroke="#111" stroke-width="0.1">MMP7</text>
<text x="185.07" y="272.25" font-size="3.0" fill="#111" text-anchor="middle" font-family='"Liberation Serif", serif' stroke="#111" stroke-width="0.1">PPIC</text>
<text x="201.36" y="282.48" font-size="3.0" fill="#111" text-anchor="middle" font-family='"Liberation Serif", serif' stroke="#111" stroke-width="0.1">TOP2B1</text>
<text x="214.96" y="296.08" font-size="3.0" fill="#111" text-anchor="middle" font-family='"Liberation Serif", serif' stroke="#111" stroke-width="0.1">CYP2D4</text>
<text x="225.19" y="312.37" font-size="3.0" fill="#111" text-anchor="middle" font-family='"Liberation Serif", serif' stroke="#111" stroke-width="0.1">NFKAB</text>
<text x="231.55" y="330.53" font-size="3.0" fill="#111" text-anchor="middle" font-family='"Liberation Serif", serif' stroke="#111" stroke-width="0.1">FMO3</text>
<text x="233.70" y="349.64" font-size="3.0" fill="#111" text-anchor="middle" font-family='"Liberation Serif", serif' stroke="#111" stroke-width="0.1">FMO1</text>
<text x="231.55" y="368.75" font-size="3.0" fill="#111" text-anchor="middle" font-family='"Liberation Serif", serif' stroke="#111" stroke-width="0.1">FMO5</text>
<text x="225.19" y="386.91" font-size="3.0" fill="#111" text-anchor="middle" font-family='"Liberation Serif", serif' stroke="#111" stroke-width="0.1">VDR8N</text>
<text x="214.96" y="403.20" font-size="3.0" fill="#111" text-anchor="middle" font-family='"Liberation Serif", serif' stroke="#111" stroke-width="0.1">TOP2B1</text>
<text x="201.36" y="416.80" font-size="3.0" fill="#111" text-anchor="middle" font-family='"Liberation Serif", serif' stroke="#111" stroke-width="0.1">CYP2A4</text>
<text x="185.07" y="427.03" font-size="3.0" fill="#111" text-anchor="middle" font-family='"Liberation Serif", serif' stroke="#111" stroke-width="0.1">TCF7L2</text>
<text x="166.91" y="433.39" font-size="3.0" fill="#111" text-anchor="middle" font-family='"Liberation Serif", serif' stroke="#111" stroke-width="0.1">CASP</text>
<text x="147.80" y="435.54" font-size="3.0" fill="#111" text-anchor="middle" font-family='"Liberation Serif", serif' stroke="#111" stroke-width="0.1">EGR1P</text>
<text x="128.69" y="434.34" font-size="5.9" fill="#111" text-anchor="middle" font-family='"Liberation Serif", serif' stroke="#111" stroke-width="0.12">SULT1E1</text>
<text x="110.53" y="427.92" font-size="5.7" fill="#111" text-anchor="middle" font-family='"Liberation Serif", serif' font-weight="bold" stroke="#111" stroke-width="0.12">ADH7</text>
<text x="94.24" y="417.53" font-size="5.2" fill="#111" text-anchor="middle" font-family='"Liberation Serif", serif' font-weight="bold" stroke="#111" stroke-width="0.12">ABCB1</text>
<text x="80.64" y="403.86" font-size="5.0" fill="#111" text-anchor="middle" font-family='"Liberation Serif", serif' stroke="#111" stroke-width="0.12">UGT1A9</text>
<text x="70.41" y="387.64" font-size="5.2" fill="#111" text-anchor="middle" font-family='"Liberation Serif", serif' stroke="#111" stroke-width="0.12">SULT1C2</text>
<text x="64.05" y="369.41" font-size="5.0" fill="#111" text-anchor="middle" font-family='"Liberation Serif", serif' stroke="#111" stroke-width="0.12">UGT1A6</text>
<text x="61.90" y="350.23" font-size="4.8" fill="#111" text-anchor="middle" font-family='"Liberation Serif", serif' stroke="#111" stroke-width="0.12">CYP4B1</text>
<text x="64.05" y="331.05" font-size="4.6" fill="#111" text-anchor="middle" font-family='"Liberation Serif", serif' stroke="#111" stroke-width="0.12">UGT1A1</text>
<text x="70.41" y="312.67" font-size="3.9" fill="#111" text-anchor="middle" font-family='"Liberation Serif", serif' stroke="#111" stroke-width="0.12">CASP3</text>
<text x="80.64" y="296.38" font-size="3.9" fill="#111" text-anchor="middle" font-family='"Liberation Serif", serif' stroke="#111" stroke-width="0.12">UGT1A4</text>
<text x="94.24" y="282.68" font-size="3.6" fill="#111" text-anchor="middle" font-family='"Liberation Serif", serif' stroke="#111" stroke-width="0.12">AKR1B1</text>
<text x="110.53" y="272.41" font-size="3.5" fill="#111" text-anchor="middle" font-family='"Liberation Serif", serif' stroke="#111" stroke-width="0.12">SULT1B1</text>
<text x="128.69" y="265.96" font-size="3.2" fill="#111" text-anchor="middle" font-family='"Liberation Serif", serif' stroke="#111" stroke-width="0.1">CYP2B6</text>
<circle cx="490.8" cy="362.9" r="63.3" fill="#8080ff"/>
<circle cx="572.9" cy="362.9" r="63.3" fill="#f2ff80"/>
<clipPath id="cl"><circle cx="490.8" cy="362.9" r="63.3"/></clipPath>
<circle cx="572.9" cy="362.9" r="63.3" fill="#bbbc7e" clip-path="url(#cl)"/>
<circle cx="490.8" cy="362.9" r="63.3" fill="none" stroke="#222" stroke-width="0.7"/>
<circle cx="572.9" cy="362.9" r="63.3" fill="none" stroke="#222" stroke-width="0.7"/>
<text x="476.60" y="366.20" font-size="10.6" fill="#111" text-anchor="middle" font-family='"Liberation Serif", serif' stroke="#111" stroke-width="0.2">69</text>
<text x="531.50" y="366.20" font-size="10.6" fill="#111" text-anchor="middle" font-family='"Liberation Serif", serif' stroke="#111" stroke-width="0.2">31</text>
<text x="587.00" y="366.20" font-size="10.6" fill="#111" text-anchor="middle" font-family='"Liberation Serif", serif' stroke="#111" stroke-width="0.2">258</text>
<text x="449.28" y="286.1" font-size="10.2" fill="#3c3cff" stroke="#3c3cff" stroke-width="0.25" text-anchor="middle" font-family='"Liberation Serif", serif'>D</text>
<text x="454.24" y="286.1" font-size="10.2" fill="#3c3cff" stroke="#3c3cff" stroke-width="0.25" text-anchor="middle" font-family='"Liberation Serif", serif'>r</text>
<text x="459.20" y="286.1" font-size="10.2" fill="#3c3cff" stroke="#3c3cff" stroke-width="0.25" text-anchor="middle" font-family='"Liberation Serif", serif'>u</text>
<text x="464.15" y="286.1" font-size="10.2" fill="#3c3cff" stroke="#3c3cff" stroke-width="0.25" text-anchor="middle" font-family='"Liberation Serif", serif'>g</text>
<text x="474.07" y="286.1" font-size="10.2" fill="#3c3cff" stroke="#3c3cff" stroke-width="0.25" text-anchor="middle" font-family='"Liberation Serif", serif'>t</text>
<text x="479.03" y="286.1" font-size="10.2" fill="#3c3cff" stroke="#3c3cff" stroke-width="0.25" text-anchor="middle" font-family='"Liberation Serif", serif'>a</text>
<text x="483.99" y="286.1" font-size="10.2" fill="#3c3cff" stroke="#3c3cff" stroke-width="0.25" text-anchor="middle" font-family='"Liberation Serif", serif'>r</text>
<text x="488.95" y="286.1" font-size="10.2" fill="#3c3cff" stroke="#3c3cff" stroke-width="0.25" text-anchor="middle" font-family='"Liberation Serif", serif'>g</text>
<text x="493.90" y="286.1" font-size="10.2" fill="#3c3cff" stroke="#3c3cff" stroke-width="0.25" text-anchor="middle" font-family='"Liberation Serif", serif'>e</text>
<text x="498.86" y="286.1" font-size="10.2" fill="#3c3cff" stroke="#3c3cff" stroke-width="0.25" text-anchor="middle" font-family='"Liberation Serif", serif'>t</text>
<text x="503.82" y="286.1" font-size="10.2" fill="#3c3cff" stroke="#3c3cff" stroke-width="0.25" text-anchor="middle" font-family='"Liberation Serif", serif'>s</text>
<text x="551.61" y="286.1" font-size="10.2" fill="#8e8e48" stroke="#8e8e48" stroke-width="0.25" text-anchor="middle" font-family='"Liberation Serif", serif'>D</text>
<text x="556.63" y="286.1" font-size="10.2" fill="#8e8e48" stroke="#8e8e48" stroke-width="0.25" text-anchor="middle" font-family='"Liberation Serif", serif'>i</text>
<text x="561.65" y="286.1" font-size="10.2" fill="#8e8e48" stroke="#8e8e48" stroke-width="0.25" text-anchor="middle" font-family='"Liberation Serif", serif'>s</text>
<text x="566.67" y="286.1" font-size="10.2" fill="#8e8e48" stroke="#8e8e48" stroke-width="0.25" text-anchor="middle" font-family='"Liberation Serif", serif'>e</text>
<text x="571.69" y="286.1" font-size="10.2" fill="#8e8e48" stroke="#8e8e48" stroke-width="0.25" text-anchor="middle" font-family='"Liberation Serif", serif'>a</text>
<text x="576.71" y="286.1" font-size="10.2" fill="#8e8e48" stroke="#8e8e48" stroke-width="0.25" text-anchor="middle" font-family='"Liberation Serif", serif'>s</text>
<text x="581.73" y="286.1" font-size="10.2" fill="#8e8e48" stroke="#8e8e48" stroke-width="0.25" text-anchor="middle" font-family='"Liberation Serif", serif'>e</text>
<text x="591.77" y="286.1" font-size="10.2" fill="#8e8e48" stroke="#8e8e48" stroke-width="0.25" text-anchor="middle" font-family='"Liberation Serif", serif'>t</text>
<text x="596.79" y="286.1" font-size="10.2" fill="#8e8e48" stroke="#8e8e48" stroke-width="0.25" text-anchor="middle" font-family='"Liberation Serif", serif'>a</text>
<text x="601.81" y="286.1" font-size="10.2" fill="#8e8e48" stroke="#8e8e48" stroke-width="0.25" text-anchor="middle" font-family='"Liberation Serif", serif'>r</text>
<text x="606.83" y="286.1" font-size="10.2" fill="#8e8e48" stroke="#8e8e48" stroke-width="0.25" text-anchor="middle" font-family='"Liberation Serif", serif'>g</text>
<text x="611.85" y="286.1" font-size="10.2" fill="#8e8e48" stroke="#8e8e48" stroke-width="0.25" text-anchor="middle" font-family='"Liberation Serif", serif'>e</text>
<text x="616.87" y="286.1" font-size="10.2" fill="#8e8e48" stroke="#8e8e48" stroke-width="0.25" text-anchor="middle" font-family='"Liberation Serif", serif'>t</text>
<text x="621.89" y="286.1" font-size="10.2" fill="#8e8e48" stroke="#8e8e48" stroke-width="0.25" text-anchor="middle" font-family='"Liberation Serif", serif'>s</text>
<text x="224.30" y="494.90" font-size="9.35" fill="#111" text-anchor="middle" font-family='"Liberation Sans", sans-serif' >GO Results of Three Ontologies</text>
<rect x="114.6" y="501.40" width="175.2" height="6.0" fill="#e9643a"/>
<line x1="112.6" y1="504.40" x2="114.2" y2="504.40" stroke="#333" stroke-width="0.5"/>
<text x="111.80" y="506.00" font-size="4.7" fill="#111" text-anchor="end" font-family='"Liberation Sans", sans-serif' textLength="42.45" lengthAdjust="spacingAndGlyphs">cellular glucuronidation</text>
<rect x="114.6" y="508.79" width="165.0" height="6.0" fill="#e9643a"/>
<line x1="112.6" y1="511.79" x2="114.2" y2="511.79" stroke="#333" stroke-width="0.5"/>
<text x="111.80" y="513.39" font-size="4.7" fill="#111" text-anchor="end" font-family='"Liberation Sans", sans-serif' textLength="54.66" lengthAdjust="spacingAndGlyphs">uronic acid metabolic process</text>
<rect x="114.6" y="516.18" width="165.0" height="6.0" fill="#e9643a"/>
<line x1="112.6" y1="519.18" x2="114.2" y2="519.18" stroke="#333" stroke-width="0.5"/>
<text x="111.80" y="520.78" font-size="4.7" fill="#111" text-anchor="end" font-family='"Liberation Sans", sans-serif' textLength="56.28" lengthAdjust="spacingAndGlyphs">glucuronate metabolic process</text>
<rect x="114.6" y="523.57" width="144.5" height="6.0" fill="#e9643a"/>
<line x1="112.6" y1="526.57" x2="114.2" y2="526.57" stroke="#333" stroke-width="0.5"/>
<text x="111.80" y="528.17" font-size="4.7" fill="#111" text-anchor="end" font-family='"Liberation Sans", sans-serif' textLength="47.99" lengthAdjust="spacingAndGlyphs">xenobiotic glucuronidation</text>
<rect x="114.6" y="530.96" width="138.4" height="6.0" fill="#e9643a"/>
<line x1="112.6" y1="533.96" x2="114.2" y2="533.96" stroke="#333" stroke-width="0.5"/>
<text x="111.80" y="535.56" font-size="4.7" fill="#111" text-anchor="end" font-family='"Liberation Sans", sans-serif' textLength="53.28" lengthAdjust="spacingAndGlyphs">xenobiotic metabolic process</text>
<rect x="114.6" y="538.35" width="136.9" height="6.0" fill="#e9643a"/>
<line x1="112.6" y1="541.35" x2="114.2" y2="541.35" stroke="#333" stroke-width="0.5"/>
<text x="111.80" y="542.95" font-size="4.7" fill="#111" text-anchor="end" font-family='"Liberation Sans", sans-serif' textLength="72.20" lengthAdjust="spacingAndGlyphs">cellular response to xenobiotic stimulus</text>
<rect x="114.6" y="545.74" width="134.4" height="6.0" fill="#e9643a"/>
<line x1="112.6" y1="548.74" x2="114.2" y2="548.74" stroke="#333" stroke-width="0.5"/>
<text x="111.80" y="550.34" font-size="4.7" fill="#111" text-anchor="end" font-family='"Liberation Sans", sans-serif' textLength="57.90" lengthAdjust="spacingAndGlyphs">response to xenobiotic stimulus</text>
<rect x="114.6" y="553.13" width="108.9" height="6.0" fill="#e9643a"/>
<line x1="112.6" y1="556.13" x2="114.2" y2="556.13" stroke="#333" stroke-width="0.5"/>
<text x="111.80" y="557.73" font-size="4.7" fill="#111" text-anchor="end" font-family='"Liberation Sans", sans-serif' textLength="51.21" lengthAdjust="spacingAndGlyphs">flavonoid metabolic process</text>
<rect x="114.6" y="560.52" width="88.2" height="6.0" fill="#e9643a"/>
<line x1="112.6" y1="563.52" x2="114.2" y2="563.52" stroke="#333" stroke-width="0.5"/>
<text x="111.80" y="565.12" font-size="4.7" fill="#111" text-anchor="end" font-family='"Liberation Sans", sans-serif' textLength="65.04" lengthAdjust="spacingAndGlyphs">monosaccharide metabolic process</text>
<rect x="114.6" y="567.91" width="72.4" height="6.0" fill="#e9643a"/>
<line x1="112.6" y1="570.91" x2="114.2" y2="570.91" stroke="#333" stroke-width="0.5"/>
<text x="111.80" y="572.51" font-size="4.7" fill="#111" text-anchor="end" font-family='"Liberation Sans", sans-serif' textLength="47.05" lengthAdjust="spacingAndGlyphs">steroid metabolic process</text>
<rect x="114.6" y="575.30" width="25.1" height="6.0" fill="#4aa872"/>
<line x1="112.6" y1="578.30" x2="114.2" y2="578.30" stroke="#333" stroke-width="0.5"/>
<text x="111.80" y="579.90" font-size="4.7" fill="#111" text-anchor="end" font-family='"Liberation Sans", sans-serif' textLength="45.21" lengthAdjust="spacingAndGlyphs">nuclear outer membrane</text>
<rect x="114.6" y="582.69" width="15.5" height="6.0" fill="#4aa872"/>
<line x1="112.6" y1="585.69" x2="114.2" y2="585.69" stroke="#333" stroke-width="0.5"/>
<text x="111.80" y="587.29" font-size="4.7" fill="#111" text-anchor="end" font-family='"Liberation Sans", sans-serif' textLength="34.60" lengthAdjust="spacingAndGlyphs">nuclear membrane</text>
<rect x="114.6" y="590.08" width="14.3" height="6.0" fill="#4aa872"/>
<line x1="112.6" y1="593.08" x2="114.2" y2="593.08" stroke="#333" stroke-width="0.5"/>
<text x="111.80" y="594.68" font-size="4.7" fill="#111" text-anchor="end" font-family='"Liberation Sans", sans-serif' textLength="52.70" lengthAdjust="spacingAndGlyphs">Schmidt−Lanterman incisure</text>
<rect x="114.6" y="597.47" width="14.0" height="6.0" fill="#4aa872"/>
<line x1="112.6" y1="600.47" x2="114.2" y2="600.47" stroke="#333" stroke-width="0.5"/>
<text x="111.80" y="602.07" font-size="4.7" fill="#111" text-anchor="end" font-family='"Liberation Sans", sans-serif' textLength="78.66" lengthAdjust="spacingAndGlyphs">spanning component of plasma membrane</text>
<rect x="114.6" y="604.86" width="13.4" height="6.0" fill="#4aa872"/>
<line x1="112.6" y1="607.86" x2="114.2" y2="607.86" stroke="#333" stroke-width="0.5"/>
<text x="111.80" y="609.46" font-size="4.7" fill="#111" text-anchor="end" font-family='"Liberation Sans", sans-serif' textLength="28.83" lengthAdjust="spacingAndGlyphs">compact myelin</text>
<rect x="114.6" y="612.25" width="13.4" height="6.0" fill="#4aa872"/>
<line x1="112.6" y1="615.25" x2="114.2" y2="615.25" stroke="#333" stroke-width="0.5"/>
<text x="111.80" y="616.85" font-size="4.7" fill="#111" text-anchor="end" font-family='"Liberation Sans", sans-serif' textLength="63.20" lengthAdjust="spacingAndGlyphs">Fanconi anaemia nuclear complex</text>
<rect x="114.6" y="619.64" width="12.6" height="6.0" fill="#4aa872"/>
<line x1="112.6" y1="622.64" x2="114.2" y2="622.64" stroke="#333" stroke-width="0.5"/>
<text x="111.80" y="624.24" font-size="4.7" fill="#111" text-anchor="end" font-family='"Liberation Sans", sans-serif' textLength="54.66" lengthAdjust="spacingAndGlyphs">intraciliary transport particle B</text>
<rect x="114.6" y="627.03" width="12.6" height="6.0" fill="#4aa872"/>
<line x1="112.6" y1="630.03" x2="114.2" y2="630.03" stroke="#333" stroke-width="0.5"/>
<text x="111.80" y="631.63" font-size="4.7" fill="#111" text-anchor="end" font-family='"Liberation Sans", sans-serif' textLength="64.13" lengthAdjust="spacingAndGlyphs">spanning component of membrane</text>
<rect x="114.6" y="634.42" width="12.0" height="6.0" fill="#4aa872"/>
<line x1="112.6" y1="637.42" x2="114.2" y2="637.42" stroke="#333" stroke-width="0.5"/>
<text x="111.80" y="639.02" font-size="4.7" fill="#111" text-anchor="end" font-family='"Liberation Sans", sans-serif' textLength="31.37" lengthAdjust="spacingAndGlyphs">mast cell granule</text>
<rect x="114.6" y="641.81" width="11.4" height="6.0" fill="#4aa872"/>
<line x1="112.6" y1="644.81" x2="114.2" y2="644.81" stroke="#333" stroke-width="0.5"/>
<text x="111.80" y="646.41" font-size="4.7" fill="#111" text-anchor="end" font-family='"Liberation Sans", sans-serif' textLength="31.61" lengthAdjust="spacingAndGlyphs">nuclear envelope</text>
<rect x="114.6" y="649.20" width="151.2" height="6.0" fill="#303078"/>
<line x1="112.6" y1="652.20" x2="114.2" y2="652.20" stroke="#333" stroke-width="0.5"/>
<text x="111.80" y="653.80" font-size="4.7" fill="#111" text-anchor="end" font-family='"Liberation Sans", sans-serif' textLength="57.89" lengthAdjust="spacingAndGlyphs">glucuronosyltransferase activity</text>
<rect x="114.6" y="656.59" width="113.3" height="6.0" fill="#303078"/>
<line x1="112.6" y1="659.59" x2="114.2" y2="659.59" stroke="#333" stroke-width="0.5"/>
<text x="111.80" y="661.19" font-size="4.7" fill="#111" text-anchor="end" font-family='"Liberation Sans", sans-serif' textLength="60.54" lengthAdjust="spacingAndGlyphs">UDP−glycosyltransferase activity</text>
<rect x="114.6" y="663.98" width="101.3" height="6.0" fill="#303078"/>
<line x1="112.6" y1="666.98" x2="114.2" y2="666.98" stroke="#333" stroke-width="0.5"/>
<text x="111.80" y="668.58" font-size="4.7" fill="#111" text-anchor="end" font-family='"Liberation Sans", sans-serif' textLength="86.64" lengthAdjust="spacingAndGlyphs">transferase activity, transferring hexosyl groups</text>
<rect x="114.6" y="671.37" width="89.9" height="6.0" fill="#303078"/>
<line x1="112.6" y1="674.37" x2="114.2" y2="674.37" stroke="#333" stroke-width="0.5"/>
<text x="111.80" y="675.97" font-size="4.7" fill="#111" text-anchor="end" font-family='"Liberation Sans", sans-serif' textLength="87.33" lengthAdjust="spacingAndGlyphs">transferase activity, transferring glycosyl groups</text>
<rect x="114.6" y="678.76" width="80.6" height="6.0" fill="#303078"/>
<line x1="112.6" y1="681.76" x2="114.2" y2="681.76" stroke="#333" stroke-width="0.5"/>
<text x="111.80" y="681.01" font-size="4.7" fill="#111" text-anchor="end" font-family='"Liberation Sans", sans-serif' textLength="97.03" lengthAdjust="spacingAndGlyphs">oxidoreductase activity, acting on paired donors, with</text>
<text x="111.80" y="685.51" font-size="4.7" fill="#111" text-anchor="end" font-family='"Liberation Sans", sans-serif' textLength="85.35" lengthAdjust="spacingAndGlyphs">incorporation or reduction of molecular oxygen</text>
<rect x="114.6" y="686.15" width="79.4" height="6.0" fill="#303078"/>
<line x1="112.6" y1="689.15" x2="114.2" y2="689.15" stroke="#333" stroke-width="0.5"/>
<text x="111.80" y="690.75" font-size="4.7" fill="#111" text-anchor="end" font-family='"Liberation Sans", sans-serif' textLength="44.29" lengthAdjust="spacingAndGlyphs">monooxygenase activity</text>
<rect x="114.6" y="693.54" width="50.2" height="6.0" fill="#303078"/>
<line x1="112.6" y1="696.54" x2="114.2" y2="696.54" stroke="#333" stroke-width="0.5"/>
<text x="111.80" y="693.54" font-size="4.7" fill="#111" text-anchor="end" font-family='"Liberation Sans", sans-serif' textLength="97.03" lengthAdjust="spacingAndGlyphs">oxidoreductase activity, acting on paired donors, with</text>
<text x="111.80" y="698.04" font-size="4.7" fill="#111" text-anchor="end" font-family='"Liberation Sans", sans-serif' textLength="110.48" lengthAdjust="spacingAndGlyphs">incorporation or reduction of molecular oxygen, NAD(P)H as</text>
<text x="111.80" y="702.54" font-size="4.7" fill="#111" text-anchor="end" font-family='"Liberation Sans", sans-serif' textLength="95.05" lengthAdjust="spacingAndGlyphs">one donor, and incorporation of one atom of oxygen</text>
<rect x="114.6" y="700.93" width="47.9" height="6.0" fill="#303078"/>
<line x1="112.6" y1="703.93" x2="114.2" y2="703.93" stroke="#333" stroke-width="0.5"/>
<text x="111.80" y="705.53" font-size="4.7" fill="#111" text-anchor="end" font-family='"Liberation Sans", sans-serif' textLength="43.36" lengthAdjust="spacingAndGlyphs">sulfotransferase activity</text>
<rect x="114.6" y="708.32" width="47.3" height="6.0" fill="#303078"/>
<line x1="112.6" y1="711.32" x2="114.2" y2="711.32" stroke="#333" stroke-width="0.5"/>
<text x="111.80" y="712.92" font-size="4.7" fill="#111" text-anchor="end" font-family='"Liberation Sans", sans-serif' textLength="25.99" lengthAdjust="spacingAndGlyphs">NADP binding</text>
<rect x="114.6" y="715.71" width="43.5" height="6.0" fill="#303078"/>
<line x1="112.6" y1="718.71" x2="114.2" y2="718.71" stroke="#333" stroke-width="0.5"/>
<text x="111.80" y="720.31" font-size="4.7" fill="#111" text-anchor="end" font-family='"Liberation Sans", sans-serif' textLength="104.06" lengthAdjust="spacingAndGlyphs">transferase activity, transferring sulfur−containing groups</text>
<line x1="114.2" y1="500.1" x2="114.2" y2="722.5" stroke="#222" stroke-width="0.7"/>
<line x1="113.8" y1="722.9" x2="333.7" y2="722.9" stroke="#222" stroke-width="0.7"/>
<line x1="114.2" y1="722.9" x2="114.2" y2="724.4" stroke="#222" stroke-width="0.5"/>
<text x="114.20" y="729.20" font-size="4.5" fill="#111" text-anchor="middle" font-family='"Liberation Sans", sans-serif' >0</text>
<line x1="156.2" y1="722.9" x2="156.2" y2="724.4" stroke="#222" stroke-width="0.5"/>
<text x="156.20" y="729.20" font-size="4.5" fill="#111" text-anchor="middle" font-family='"Liberation Sans", sans-serif' >5</text>
<line x1="198.2" y1="722.9" x2="198.2" y2="724.4" stroke="#222" stroke-width="0.5"/>
<text x="198.20" y="729.20" font-size="4.5" fill="#111" text-anchor="middle" font-family='"Liberation Sans", sans-serif' >10</text>
<line x1="240.2" y1="722.9" x2="240.2" y2="724.4" stroke="#222" stroke-width="0.5"/>
<text x="240.20" y="729.20" font-size="4.5" fill="#111" text-anchor="middle" font-family='"Liberation Sans", sans-serif' >15</text>
<line x1="282.2" y1="722.9" x2="282.2" y2="724.4" stroke="#222" stroke-width="0.5"/>
<text x="282.20" y="729.20" font-size="4.5" fill="#111" text-anchor="middle" font-family='"Liberation Sans", sans-serif' >20</text>
<line x1="324.2" y1="722.9" x2="324.2" y2="724.4" stroke="#222" stroke-width="0.5"/>
<text x="324.20" y="729.20" font-size="4.5" fill="#111" text-anchor="middle" font-family='"Liberation Sans", sans-serif' >25</text>
<text x="223.90" y="737.50" font-size="9.4" fill="#111" text-anchor="middle" font-family='"Liberation Sans", sans-serif' >Enrichment Score</text>
<rect x="311.5" y="501.5" width="23" height="28" fill="#fff" stroke="#333" stroke-width="0.8"/>
<rect x="313.9" y="506.70" width="9.1" height="6.2" fill="#e9643a"/>
<text x="326.00" y="511.60" font-size="4.9" fill="#222" text-anchor="start" font-family='"Liberation Sans", sans-serif' textLength="5.4" lengthAdjust="spacingAndGlyphs">BP</text>
<rect x="313.9" y="513.75" width="9.1" height="6.2" fill="#4aa872"/>
<text x="326.00" y="518.65" font-size="4.9" fill="#222" text-anchor="start" font-family='"Liberation Sans", sans-serif' textLength="5.4" lengthAdjust="spacingAndGlyphs">CC</text>
<rect x="313.9" y="520.80" width="9.1" height="6.2" fill="#303078"/>
<text x="326.00" y="525.70" font-size="4.9" fill="#222" text-anchor="start" font-family='"Liberation Sans", sans-serif' textLength="5.4" lengthAdjust="spacingAndGlyphs">MF</text>
<rect x="501.7" y="502.7" width="123.5" height="219.9" fill="#fff"/>
<g stroke="#ebebeb" stroke-width="0.6">
<line x1="501.7" y1="508.1" x2="625.2" y2="508.1"/>
<line x1="501.7" y1="519.1" x2="625.2" y2="519.1"/>
<line x1="501.7" y1="530.1" x2="625.2" y2="530.1"/>
<line x1="501.7" y1="541.1" x2="625.2" y2="541.1"/>
<line x1="501.7" y1="552.2" x2="625.2" y2="552.2"/>
<line x1="501.7" y1="563.2" x2="625.2" y2="563.2"/>
<line x1="501.7" y1="574.2" x2="625.2" y2="574.2"/>
<line x1="501.7" y1="585.3" x2="625.2" y2="585.3"/>
<line x1="501.7" y1="596.3" x2="625.2" y2="596.3"/>
<line x1="501.7" y1="607.3" x2="625.2" y2="607.3"/>
<line x1="501.7" y1="618.4" x2="625.2" y2="618.4"/>
<line x1="501.7" y1="629.4" x2="625.2" y2="629.4"/>
<line x1="501.7" y1="640.4" x2="625.2" y2="640.4"/>
<line x1="501.7" y1="651.4" x2="625.2" y2="651.4"/>
<line x1="501.7" y1="662.5" x2="625.2" y2="662.5"/>
<line x1="501.7" y1="673.5" x2="625.2" y2="673.5"/>
<line x1="501.7" y1="684.5" x2="625.2" y2="684.5"/>
<line x1="501.7" y1="695.6" x2="625.2" y2="695.6"/>
<line x1="501.7" y1="706.6" x2="625.2" y2="706.6"/>
<line x1="501.7" y1="717.6" x2="625.2" y2="717.6"/>
<line x1="501.7" y1="502.7" x2="501.7" y2="722.6" stroke-width="0.6"/>
<line x1="522.2" y1="502.7" x2="522.2" y2="722.6" stroke-width="0.35"/>
<line x1="542.6" y1="502.7" x2="542.6" y2="722.6" stroke-width="0.6"/>
<line x1="563.1" y1="502.7" x2="563.1" y2="722.6" stroke-width="0.35"/>
<line x1="583.6" y1="502.7" x2="583.6" y2="722.6" stroke-width="0.6"/>
<line x1="604.1" y1="502.7" x2="604.1" y2="722.6" stroke-width="0.35"/>
<line x1="624.5" y1="502.7" x2="624.5" y2="722.6" stroke-width="0.6"/>
</g>
<rect x="501.7" y="503.20" width="114.7" height="9.7" fill="#fa1e10"/>
<line x1="499.5" y1="508.1" x2="501.7" y2="508.1" stroke="#333" stroke-width="0.5"/>
<text x="497.80" y="510.75" font-size="7.0" fill="#000" text-anchor="end" font-family='"Liberation Serif", serif' textLength="102.42" lengthAdjust="spacingAndGlyphs">Drug metabolism − cytochrome P450</text>
<rect x="501.7" y="514.23" width="81.9" height="9.7" fill="#e62a52"/>
<line x1="499.5" y1="519.1" x2="501.7" y2="519.1" stroke="#333" stroke-width="0.5"/>
<text x="497.80" y="521.78" font-size="7.0" fill="#000" text-anchor="end" font-family='"Liberation Serif", serif' textLength="113.12" lengthAdjust="spacingAndGlyphs">Pentose and glucuronate interconversions</text>
<rect x="501.7" y="525.26" width="73.7" height="9.7" fill="#e02a62"/>
<line x1="499.5" y1="530.1" x2="501.7" y2="530.1" stroke="#333" stroke-width="0.5"/>
<text x="497.80" y="532.81" font-size="7.0" fill="#000" text-anchor="end" font-family='"Liberation Serif", serif' textLength="95.73" lengthAdjust="spacingAndGlyphs">Ascorbate and aldarate metabolism</text>
<rect x="501.7" y="536.29" width="81.9" height="9.7" fill="#dc2a6e"/>
<line x1="499.5" y1="541.1" x2="501.7" y2="541.1" stroke="#333" stroke-width="0.5"/>
<text x="497.80" y="543.84" font-size="7.0" fill="#000" text-anchor="end" font-family='"Liberation Serif", serif' textLength="80.84" lengthAdjust="spacingAndGlyphs">Steroid hormone biosynthesis</text>
<rect x="501.7" y="547.32" width="81.9" height="9.7" fill="#da2a72"/>
<line x1="499.5" y1="552.2" x2="501.7" y2="552.2" stroke="#333" stroke-width="0.5"/>
<text x="497.80" y="554.87" font-size="7.0" fill="#000" text-anchor="end" font-family='"Liberation Serif", serif' textLength="53.45" lengthAdjust="spacingAndGlyphs">Retinol metabolism</text>
<rect x="501.7" y="558.35" width="73.7" height="9.7" fill="#d82a76"/>
<line x1="499.5" y1="563.2" x2="501.7" y2="563.2" stroke="#333" stroke-width="0.5"/>
<text x="497.80" y="565.90" font-size="7.0" fill="#000" text-anchor="end" font-family='"Liberation Serif", serif' textLength="100.54" lengthAdjust="spacingAndGlyphs">MAPK−P38mapk signaling pathway</text>
<rect x="501.7" y="569.38" width="81.9" height="9.7" fill="#d62a7a"/>
<line x1="499.5" y1="574.2" x2="501.7" y2="574.2" stroke="#333" stroke-width="0.5"/>
<text x="497.80" y="576.93" font-size="7.0" fill="#000" text-anchor="end" font-family='"Liberation Serif", serif' textLength="111.85" lengthAdjust="spacingAndGlyphs">Chemical carcinogenesis − DNA adducts</text>
<rect x="501.7" y="580.41" width="81.9" height="9.7" fill="#d52a7c"/>
<line x1="499.5" y1="585.3" x2="501.7" y2="585.3" stroke="#333" stroke-width="0.5"/>
<text x="497.80" y="587.96" font-size="7.0" fill="#000" text-anchor="end" font-family='"Liberation Serif", serif' textLength="130.88" lengthAdjust="spacingAndGlyphs">Metabolism of xenobiotics by cytochrome P450</text>
<rect x="501.7" y="591.44" width="81.9" height="9.7" fill="#d22a82"/>
<line x1="499.5" y1="596.3" x2="501.7" y2="596.3" stroke="#333" stroke-width="0.5"/>
<text x="497.80" y="598.99" font-size="7.0" fill="#000" text-anchor="end" font-family='"Liberation Serif", serif' textLength="37.58" lengthAdjust="spacingAndGlyphs">Bile secretion</text>
<rect x="501.7" y="602.47" width="73.7" height="9.7" fill="#c82a98"/>
<line x1="499.5" y1="607.3" x2="501.7" y2="607.3" stroke="#333" stroke-width="0.5"/>
<text x="497.80" y="610.02" font-size="7.0" fill="#000" text-anchor="end" font-family='"Liberation Serif", serif' textLength="94.10" lengthAdjust="spacingAndGlyphs">Drug metabolism − other enzymes</text>
<rect x="501.7" y="613.50" width="73.7" height="9.7" fill="#ae2ec4"/>
<line x1="499.5" y1="618.4" x2="501.7" y2="618.4" stroke="#333" stroke-width="0.5"/>
<text x="497.80" y="621.05" font-size="7.0" fill="#000" text-anchor="end" font-family='"Liberation Serif", serif' textLength="68.75" lengthAdjust="spacingAndGlyphs">Biosynthesis of cofactors</text>
<rect x="501.7" y="624.53" width="73.7" height="9.7" fill="#a82ecc"/>
<line x1="499.5" y1="629.4" x2="501.7" y2="629.4" stroke="#333" stroke-width="0.5"/>
<text x="497.80" y="632.08" font-size="7.0" fill="#000" text-anchor="end" font-family='"Liberation Serif", serif' textLength="125.81" lengthAdjust="spacingAndGlyphs">Chemical carcinogenesis − receptor activation</text>
<rect x="501.7" y="635.56" width="32.8" height="9.7" fill="#a02ee0"/>
<line x1="499.5" y1="640.4" x2="501.7" y2="640.4" stroke="#333" stroke-width="0.5"/>
<text x="497.80" y="643.11" font-size="7.0" fill="#000" text-anchor="end" font-family='"Liberation Serif", serif' textLength="99.80" lengthAdjust="spacingAndGlyphs">Taurine and hypotaurine metabolism</text>
<rect x="501.7" y="646.59" width="16.4" height="9.7" fill="#1e0cf8"/>
<line x1="499.5" y1="651.4" x2="501.7" y2="651.4" stroke="#333" stroke-width="0.5"/>
<text x="497.80" y="654.14" font-size="7.0" fill="#000" text-anchor="end" font-family='"Liberation Serif", serif' textLength="60.61" lengthAdjust="spacingAndGlyphs">Small cell lung cancer</text>
<rect x="501.7" y="657.62" width="16.4" height="9.7" fill="#1e0cf8"/>
<line x1="499.5" y1="662.5" x2="501.7" y2="662.5" stroke="#333" stroke-width="0.5"/>
<text x="497.80" y="665.17" font-size="7.0" fill="#000" text-anchor="end" font-family='"Liberation Serif", serif' textLength="68.42" lengthAdjust="spacingAndGlyphs">IL−17 signaling pathway</text>
<rect x="501.7" y="668.65" width="8.2" height="9.7" fill="#1e0cf8"/>
<line x1="499.5" y1="673.5" x2="501.7" y2="673.5" stroke="#333" stroke-width="0.5"/>
<text x="497.80" y="676.20" font-size="7.0" fill="#000" text-anchor="end" font-family='"Liberation Serif", serif' textLength="136.78" lengthAdjust="spacingAndGlyphs">Glycosaminoglycan biosynthesis − keratan sulfate</text>
<rect x="501.7" y="679.68" width="16.4" height="9.7" fill="#1e0cf8"/>
<line x1="499.5" y1="684.5" x2="501.7" y2="684.5" stroke="#333" stroke-width="0.5"/>
<text x="497.80" y="687.23" font-size="7.0" fill="#000" text-anchor="end" font-family='"Liberation Serif", serif' textLength="64.22" lengthAdjust="spacingAndGlyphs">TNF signaling pathway</text>
<rect x="501.7" y="690.71" width="16.4" height="9.7" fill="#1e0cf8"/>
<line x1="499.5" y1="695.6" x2="501.7" y2="695.6" stroke="#333" stroke-width="0.5"/>
<text x="497.80" y="698.26" font-size="7.0" fill="#000" text-anchor="end" font-family='"Liberation Serif", serif' textLength="57.85" lengthAdjust="spacingAndGlyphs">Serotonergic synapse</text>
<rect x="501.7" y="701.74" width="8.2" height="9.7" fill="#1e0cf8"/>
<line x1="499.5" y1="706.6" x2="501.7" y2="706.6" stroke="#333" stroke-width="0.5"/>
<text x="497.80" y="709.29" font-size="7.0" fill="#000" text-anchor="end" font-family='"Liberation Serif", serif' textLength="82.16" lengthAdjust="spacingAndGlyphs">Primary bile acid biosynthesis</text>
<rect x="501.7" y="712.77" width="16.4" height="9.7" fill="#1e0cf8"/>
<line x1="499.5" y1="717.6" x2="501.7" y2="717.6" stroke="#333" stroke-width="0.5"/>
<text x="497.80" y="720.32" font-size="7.0" fill="#000" text-anchor="end" font-family='"Liberation Serif", serif' textLength="27.58" lengthAdjust="spacingAndGlyphs">Apoptosis</text>
<rect x="501.7" y="502.7" width="123.5" height="219.9" fill="none" stroke="#333" stroke-width="0.6"/>
<line x1="501.7" y1="722.6" x2="501.7" y2="724.8000000000001" stroke="#333" stroke-width="0.5"/>
<text x="501.70" y="730.60" font-size="7.6" fill="#222" text-anchor="middle" font-family='"Liberation Serif", serif' >0</text>
<line x1="542.6" y1="722.6" x2="542.6" y2="724.8000000000001" stroke="#333" stroke-width="0.5"/>
<text x="542.65" y="730.60" font-size="7.6" fill="#222" text-anchor="middle" font-family='"Liberation Serif", serif' >5</text>
<line x1="583.6" y1="722.6" x2="583.6" y2="724.8000000000001" stroke="#333" stroke-width="0.5"/>
<text x="583.60" y="730.60" font-size="7.6" fill="#222" text-anchor="middle" font-family='"Liberation Serif", serif' >10</text>
<line x1="624.5" y1="722.6" x2="624.5" y2="724.8000000000001" stroke="#333" stroke-width="0.5"/>
<text x="624.55" y="730.60" font-size="7.6" fill="#222" text-anchor="middle" font-family='"Liberation Serif", serif' >15</text>
<text x="563.60" y="740.20" font-size="10.2" fill="#000" text-anchor="middle" font-family='"Liberation Serif", serif' >Counts</text>
<text x="574.60" y="496.30" font-size="9.7" fill="#111" text-anchor="middle" font-family='"Liberation Sans", sans-serif' >KEGG Enrichment</text>
<rect x="391" y="556.6" width="108.5" height="12.6" rx="0.8" fill="none" stroke="#444" stroke-width="0.6"/>
<rect x="425.5" y="655.5" width="73.9" height="12.6" rx="0.8" fill="none" stroke="#444" stroke-width="0.6"/>
<rect x="425.5" y="678.6" width="73.9" height="12.8" rx="0.8" fill="none" stroke="#444" stroke-width="0.6"/>
<defs><linearGradient id="lg" x1="0" y1="0" x2="0" y2="1"><stop offset="0" stop-color="#ff2016"/><stop offset="0.2" stop-color="#ec2845"/><stop offset="0.45" stop-color="#d22a7e"/><stop offset="0.7" stop-color="#b02ac8"/><stop offset="0.85" stop-color="#8a18f0"/><stop offset="1" stop-color="#1a10ff"/></linearGradient></defs>
<rect x="637.1" y="590" width="11.7" height="58.8" fill="url(#lg)"/>
<line x1="637.1" y1="598.5" x2="639.4" y2="598.5" stroke="#fff" stroke-width="0.5"/>
<line x1="646.5" y1="598.5" x2="648.8" y2="598.5" stroke="#fff" stroke-width="0.5"/>
<text x="652.60" y="600.80" font-size="6.5" fill="#111" text-anchor="start" font-family='"Liberation Serif", serif' >20</text>
<line x1="637.1" y1="611.7" x2="639.4" y2="611.7" stroke="#fff" stroke-width="0.5"/>
<line x1="646.5" y1="611.7" x2="648.8" y2="611.7" stroke="#fff" stroke-width="0.5"/>
<text x="652.60" y="614.00" font-size="6.5" fill="#111" text-anchor="start" font-family='"Liberation Serif", serif' >15</text>
<line x1="637.1" y1="625.4" x2="639.4" y2="625.4" stroke="#fff" stroke-width="0.5"/>
<line x1="646.5" y1="625.4" x2="648.8" y2="625.4" stroke="#fff" stroke-width="0.5"/>
<text x="652.60" y="627.70" font-size="6.5" fill="#111" text-anchor="start" font-family='"Liberation Serif", serif' >10</text>
<line x1="637.1" y1="638.7" x2="639.4" y2="638.7" stroke="#fff" stroke-width="0.5"/>
<line x1="646.5" y1="638.7" x2="648.8" y2="638.7" stroke="#fff" stroke-width="0.5"/>
<text x="652.60" y="641.00" font-size="6.5" fill="#111" text-anchor="start" font-family='"Liberation Serif", serif' >5</text>
<text x="637.2" y="583.4" font-size="8.2" fill="#000" font-family='"Liberation Serif", serif'>−log<tspan font-size="5.4" dy="1.8">10</tspan><tspan dy="-1.8">(pvalue)</tspan></text>
</svg></body></html>
